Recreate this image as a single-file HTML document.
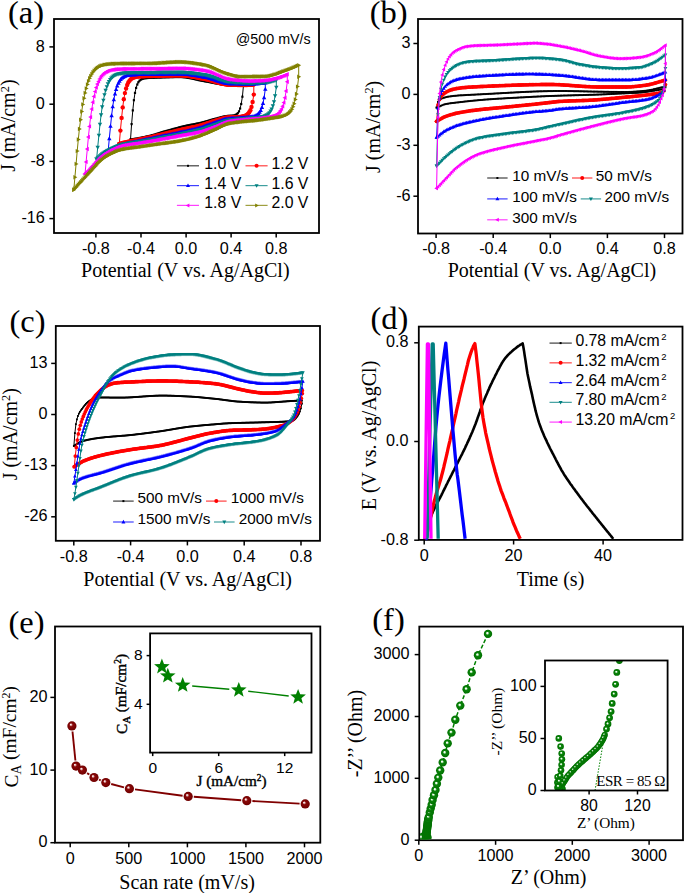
<!DOCTYPE html>
<html><head><meta charset="utf-8"><style>
html,body{margin:0;padding:0;background:#fff;}
svg{display:block;}
</style></head><body>
<svg width="685" height="893" viewBox="0 0 685 893">
<defs><marker id="mak" markerUnits="userSpaceOnUse" markerWidth="20" markerHeight="20" refX="0" refY="0" viewBox="-10 -10 20 20" overflow="visible"><g fill="#000000"><rect x="-1.1" y="-1.1" width="2.2" height="2.2"/></g></marker><marker id="mar" markerUnits="userSpaceOnUse" markerWidth="20" markerHeight="20" refX="0" refY="0" viewBox="-10 -10 20 20" overflow="visible"><g fill="#ff0000"><circle r="2.2"/></g></marker><marker id="mab" markerUnits="userSpaceOnUse" markerWidth="20" markerHeight="20" refX="0" refY="0" viewBox="-10 -10 20 20" overflow="visible"><g fill="#0000ff"><path d="M0,-2.4200000000000004 L2.2,1.54 L-2.2,1.54Z"/></g></marker><marker id="mat" markerUnits="userSpaceOnUse" markerWidth="20" markerHeight="20" refX="0" refY="0" viewBox="-10 -10 20 20" overflow="visible"><g fill="#008080"><path d="M0,2.4200000000000004 L2.2,-1.54 L-2.2,-1.54Z"/></g></marker><marker id="mam" markerUnits="userSpaceOnUse" markerWidth="20" markerHeight="20" refX="0" refY="0" viewBox="-10 -10 20 20" overflow="visible"><g fill="#ff00ff"><path d="M-2.4200000000000004,0 L1.54,-2.2 L1.54,2.2Z"/></g></marker><marker id="mao" markerUnits="userSpaceOnUse" markerWidth="20" markerHeight="20" refX="0" refY="0" viewBox="-10 -10 20 20" overflow="visible"><g fill="#808000"><path d="M2.4200000000000004,0 L-1.54,-2.2 L-1.54,2.2Z"/></g></marker><marker id="mbk" markerUnits="userSpaceOnUse" markerWidth="20" markerHeight="20" refX="0" refY="0" viewBox="-10 -10 20 20" overflow="visible"><g fill="#000000"><rect x="-0.95" y="-0.95" width="1.9" height="1.9"/></g></marker><marker id="mbr" markerUnits="userSpaceOnUse" markerWidth="20" markerHeight="20" refX="0" refY="0" viewBox="-10 -10 20 20" overflow="visible"><g fill="#ff0000"><circle r="1.9"/></g></marker><marker id="mbb" markerUnits="userSpaceOnUse" markerWidth="20" markerHeight="20" refX="0" refY="0" viewBox="-10 -10 20 20" overflow="visible"><g fill="#0000ff"><path d="M0,-2.09 L1.9,1.3299999999999998 L-1.9,1.3299999999999998Z"/></g></marker><marker id="mbt" markerUnits="userSpaceOnUse" markerWidth="20" markerHeight="20" refX="0" refY="0" viewBox="-10 -10 20 20" overflow="visible"><g fill="#008080"><path d="M0,2.09 L1.9,-1.3299999999999998 L-1.9,-1.3299999999999998Z"/></g></marker><marker id="mbm" markerUnits="userSpaceOnUse" markerWidth="20" markerHeight="20" refX="0" refY="0" viewBox="-10 -10 20 20" overflow="visible"><g fill="#ff00ff"><path d="M-2.09,0 L1.3299999999999998,-1.9 L1.3299999999999998,1.9Z"/></g></marker><marker id="mbo" markerUnits="userSpaceOnUse" markerWidth="20" markerHeight="20" refX="0" refY="0" viewBox="-10 -10 20 20" overflow="visible"><g fill="#808000"><path d="M2.09,0 L-1.3299999999999998,-1.9 L-1.3299999999999998,1.9Z"/></g></marker><marker id="mck" markerUnits="userSpaceOnUse" markerWidth="20" markerHeight="20" refX="0" refY="0" viewBox="-10 -10 20 20" overflow="visible"><g fill="#000000"><rect x="-0.925" y="-0.925" width="1.85" height="1.85"/></g></marker><marker id="mcr" markerUnits="userSpaceOnUse" markerWidth="20" markerHeight="20" refX="0" refY="0" viewBox="-10 -10 20 20" overflow="visible"><g fill="#ff0000"><circle r="1.85"/></g></marker><marker id="mcb" markerUnits="userSpaceOnUse" markerWidth="20" markerHeight="20" refX="0" refY="0" viewBox="-10 -10 20 20" overflow="visible"><g fill="#0000ff"><path d="M0,-2.035 L1.85,1.295 L-1.85,1.295Z"/></g></marker><marker id="mct" markerUnits="userSpaceOnUse" markerWidth="20" markerHeight="20" refX="0" refY="0" viewBox="-10 -10 20 20" overflow="visible"><g fill="#008080"><path d="M0,2.035 L1.85,-1.295 L-1.85,-1.295Z"/></g></marker><marker id="mcm" markerUnits="userSpaceOnUse" markerWidth="20" markerHeight="20" refX="0" refY="0" viewBox="-10 -10 20 20" overflow="visible"><g fill="#ff00ff"><path d="M-2.035,0 L1.295,-1.85 L1.295,1.85Z"/></g></marker><marker id="mco" markerUnits="userSpaceOnUse" markerWidth="20" markerHeight="20" refX="0" refY="0" viewBox="-10 -10 20 20" overflow="visible"><g fill="#808000"><path d="M2.035,0 L-1.295,-1.85 L-1.295,1.85Z"/></g></marker><marker id="mdk" markerUnits="userSpaceOnUse" markerWidth="20" markerHeight="20" refX="0" refY="0" viewBox="-10 -10 20 20" overflow="visible"><g fill="#000000"><rect x="-0.9" y="-0.9" width="1.8" height="1.8"/></g></marker><marker id="mdr" markerUnits="userSpaceOnUse" markerWidth="20" markerHeight="20" refX="0" refY="0" viewBox="-10 -10 20 20" overflow="visible"><g fill="#ff0000"><circle r="1.8"/></g></marker><marker id="mdb" markerUnits="userSpaceOnUse" markerWidth="20" markerHeight="20" refX="0" refY="0" viewBox="-10 -10 20 20" overflow="visible"><g fill="#0000ff"><path d="M0,-1.9800000000000002 L1.8,1.26 L-1.8,1.26Z"/></g></marker><marker id="mdt" markerUnits="userSpaceOnUse" markerWidth="20" markerHeight="20" refX="0" refY="0" viewBox="-10 -10 20 20" overflow="visible"><g fill="#008080"><path d="M0,1.9800000000000002 L1.8,-1.26 L-1.8,-1.26Z"/></g></marker><marker id="mdm" markerUnits="userSpaceOnUse" markerWidth="20" markerHeight="20" refX="0" refY="0" viewBox="-10 -10 20 20" overflow="visible"><g fill="#ff00ff"><path d="M-1.9800000000000002,0 L1.26,-1.8 L1.26,1.8Z"/></g></marker><marker id="mdo" markerUnits="userSpaceOnUse" markerWidth="20" markerHeight="20" refX="0" refY="0" viewBox="-10 -10 20 20" overflow="visible"><g fill="#808000"><path d="M1.9800000000000002,0 L-1.26,-1.8 L-1.26,1.8Z"/></g></marker><marker id="lgk" markerUnits="userSpaceOnUse" markerWidth="20" markerHeight="20" refX="0" refY="0" viewBox="-10 -10 20 20" overflow="visible"><g fill="#000000"><rect x="-1.1" y="-1.1" width="2.2" height="2.2"/></g></marker><marker id="lgr" markerUnits="userSpaceOnUse" markerWidth="20" markerHeight="20" refX="0" refY="0" viewBox="-10 -10 20 20" overflow="visible"><g fill="#ff0000"><circle r="2.2"/></g></marker><marker id="lgb" markerUnits="userSpaceOnUse" markerWidth="20" markerHeight="20" refX="0" refY="0" viewBox="-10 -10 20 20" overflow="visible"><g fill="#0000ff"><path d="M0,-2.4200000000000004 L2.2,1.54 L-2.2,1.54Z"/></g></marker><marker id="lgt" markerUnits="userSpaceOnUse" markerWidth="20" markerHeight="20" refX="0" refY="0" viewBox="-10 -10 20 20" overflow="visible"><g fill="#008080"><path d="M0,2.4200000000000004 L2.2,-1.54 L-2.2,-1.54Z"/></g></marker><marker id="lgm" markerUnits="userSpaceOnUse" markerWidth="20" markerHeight="20" refX="0" refY="0" viewBox="-10 -10 20 20" overflow="visible"><g fill="#ff00ff"><path d="M-2.4200000000000004,0 L1.54,-2.2 L1.54,2.2Z"/></g></marker><marker id="lgo" markerUnits="userSpaceOnUse" markerWidth="20" markerHeight="20" refX="0" refY="0" viewBox="-10 -10 20 20" overflow="visible"><g fill="#808000"><path d="M2.4200000000000004,0 L-1.54,-2.2 L-1.54,2.2Z"/></g></marker><g id="lgks" fill="#000000"><rect x="-1.0" y="-1.0" width="2.0" height="2.0"/></g><g id="lgrs" fill="#ff0000"><circle r="2.0"/></g><g id="lgbs" fill="#0000ff"><path d="M0,-2.2 L2.0,1.4 L-2.0,1.4Z"/></g><g id="lgts" fill="#008080"><path d="M0,2.2 L2.0,-1.4 L-2.0,-1.4Z"/></g><g id="lgms" fill="#ff00ff"><path d="M-2.2,0 L1.4,-2.0 L1.4,2.0Z"/></g><g id="lgos" fill="#808000"><path d="M2.2,0 L-1.4,-2.0 L-1.4,2.0Z"/></g><radialGradient id="gr" cx="0.5" cy="0.5" r="0.5" fx="0.36" fy="0.33"><stop offset="0" stop-color="#fff"/><stop offset="0.12" stop-color="#f4dada"/><stop offset="0.38" stop-color="#8a0808"/><stop offset="1" stop-color="#700000"/></radialGradient><radialGradient id="gg" cx="0.5" cy="0.5" r="0.5" fx="0.4" fy="0.38"><stop offset="0" stop-color="#fff"/><stop offset="0.15" stop-color="#f0fff0"/><stop offset="0.42" stop-color="#0a840a"/><stop offset="1" stop-color="#007000"/></radialGradient></defs>
<rect width="685" height="893" fill="#fff"/>
<text x="8" y="23.4" font-family="Liberation Serif, serif" font-size="32.5">(a)</text>
<rect x="54" y="19" width="265" height="214" fill="none" stroke="#000" stroke-width="1.8"/>
<line x1="95.9" y1="233" x2="95.9" y2="237.6" stroke="#000" stroke-width="1.5"/>
<text x="95.9" y="253.7" font-family="Liberation Sans, sans-serif" font-size="16.2" text-anchor="middle">-0.8</text>
<line x1="141.0" y1="233" x2="141.0" y2="237.6" stroke="#000" stroke-width="1.5"/>
<text x="141.0" y="253.7" font-family="Liberation Sans, sans-serif" font-size="16.2" text-anchor="middle">-0.4</text>
<line x1="186.1" y1="233" x2="186.1" y2="237.6" stroke="#000" stroke-width="1.5"/>
<text x="186.1" y="253.7" font-family="Liberation Sans, sans-serif" font-size="16.2" text-anchor="middle">0.0</text>
<line x1="231.1" y1="233" x2="231.1" y2="237.6" stroke="#000" stroke-width="1.5"/>
<text x="231.1" y="253.7" font-family="Liberation Sans, sans-serif" font-size="16.2" text-anchor="middle">0.4</text>
<line x1="276.2" y1="233" x2="276.2" y2="237.6" stroke="#000" stroke-width="1.5"/>
<text x="276.2" y="253.7" font-family="Liberation Sans, sans-serif" font-size="16.2" text-anchor="middle">0.8</text>
<line x1="49.4" y1="46.9" x2="54" y2="46.9" stroke="#000" stroke-width="1.5"/>
<text x="44.8" y="51.5" font-family="Liberation Sans, sans-serif" font-size="16.2" text-anchor="end">8</text>
<line x1="49.4" y1="104.2" x2="54" y2="104.2" stroke="#000" stroke-width="1.5"/>
<text x="44.8" y="108.8" font-family="Liberation Sans, sans-serif" font-size="16.2" text-anchor="end">0</text>
<line x1="49.4" y1="161.4" x2="54" y2="161.4" stroke="#000" stroke-width="1.5"/>
<text x="44.8" y="166.0" font-family="Liberation Sans, sans-serif" font-size="16.2" text-anchor="end">-8</text>
<line x1="49.4" y1="218.6" x2="54" y2="218.6" stroke="#000" stroke-width="1.5"/>
<text x="44.8" y="223.2" font-family="Liberation Sans, sans-serif" font-size="16.2" text-anchor="end">-16</text>
<text transform="translate(15.4,125.6) rotate(-90)" font-family="Liberation Serif, serif" font-size="20" text-anchor="middle" >J (mA/cm<tspan font-size="0.62em" dy="-0.55em">2</tspan><tspan dy="0.34em">)</tspan></text>
<text x="185.3" y="277.3" font-family="Liberation Serif, serif" font-size="20" text-anchor="middle" >Potential (V vs. Ag/AgCl)</text>
<text x="235.8" y="43.7" font-family="Liberation Sans, sans-serif" font-size="14.3">@500 mV/s</text>
<polyline points="130.5,139.6 131.6,124.1 132.8,110.4 133.9,100.2 135,92.9 136.1,87.9 137.3,84.5 138.4,82.2 139.5,80.7 140.7,79.7 141.8,79.1 142.9,78.7 144.1,78.4 145.2,78.2 146.3,78.1 147.4,78 148.6,77.9 149.7,77.8 150.8,77.8 152,77.7 153.1,77.7 154.2,77.7 155.4,77.6 156.5,77.6 157.6,77.5 158.7,77.5 159.9,77.5 161,77.4 162.1,77.4 163.3,77.3 164.4,77.3 165.5,77.3 166.7,77.2 167.8,77.2 168.9,77.2 170,77.1 171.2,77.1 172.3,77.1 173.4,77.1 174.6,77 175.7,77 176.8,77 178,77 179.1,77 180.2,77 181.3,77 182.5,77.1 183.6,77.2 184.7,77.3 185.9,77.4 187,77.6 188.1,77.8 189.3,78 190.4,78.2 191.5,78.4 192.6,78.7 193.8,78.9 194.9,79.2 196,79.4 197.2,79.7 198.3,80 199.4,80.2 200.6,80.5 201.7,80.7 202.8,80.9 203.9,81.1 205.1,81.3 206.2,81.5 207.3,81.7 208.5,81.9 209.6,82.1 210.7,82.4 211.9,82.6 213,82.8 214.1,83 215.2,83.3 216.4,83.5 217.5,83.7 218.6,83.9 219.8,84.1 220.9,84.3 222,84.5 223.2,84.6 224.3,84.8 225.4,84.9 226.5,85 227.7,85 228.8,85.1 229.9,85.1 231.1,85.1 232.2,85.1 233.3,85.1 234.5,85.1 235.6,85.1 236.7,85.1 237.8,85.1 239,85.1 240.1,85.1 241.2,85.1 242.4,85.1 243.5,85.1 242.4,96.7 241.2,104 240.1,108.5 239,111.4 237.8,113.2 236.7,114.2 235.6,114.9 234.5,115.3 233.3,115.6 232.2,115.7 231.1,115.8 229.9,115.8 228.8,115.9 227.7,115.9 226.5,116.1 225.4,116.3 224.3,116.5 223.2,116.7 222,117 220.9,117.3 219.8,117.6 218.6,117.9 217.5,118.3 216.4,118.6 215.2,118.8 214.1,119.1 213,119.4 211.9,119.7 210.7,120 209.6,120.4 208.5,120.7 207.3,121.1 206.2,121.4 205.1,121.7 203.9,122 202.8,122.3 201.7,122.6 200.6,122.9 199.4,123.2 198.3,123.4 197.2,123.6 196,123.8 194.9,124.1 193.8,124.3 192.6,124.5 191.5,124.7 190.4,124.9 189.3,125.1 188.1,125.4 187,125.6 185.9,125.8 184.7,126.1 183.6,126.3 182.5,126.6 181.3,126.9 180.2,127.2 179.1,127.5 178,127.8 176.8,128.1 175.7,128.4 174.6,128.7 173.4,129 172.3,129.3 171.2,129.7 170,130 168.9,130.3 167.8,130.6 166.7,130.9 165.5,131.2 164.4,131.5 163.3,131.8 162.1,132.2 161,132.5 159.9,132.9 158.7,133.3 157.6,133.6 156.5,134 155.4,134.4 154.2,134.7 153.1,135 152,135.3 150.8,135.6 149.7,135.9 148.6,136.1 147.4,136.4 146.3,136.6 145.2,136.9 144.1,137.1 142.9,137.3 141.8,137.6 140.7,137.8 139.5,138 138.4,138.3 137.3,138.5 136.1,138.7 135,138.8 133.9,139 132.8,139.2 131.6,139.4 130.5,139.6" fill="none" stroke="#000000" stroke-width="1.0" stroke-linejoin="round" marker-start="url(#mak)" marker-mid="url(#mak)" marker-end="url(#mak)" />
<polyline points="119.3,144 120.4,130.6 121.6,117.9 122.7,107.4 123.8,99.3 124.9,93.1 126.1,88.5 127.2,85 128.3,82.5 129.5,80.7 130.6,79.4 131.7,78.5 132.9,77.9 134,77.4 135.1,77 136.2,76.8 137.4,76.6 138.5,76.5 139.6,76.4 140.8,76.3 141.9,76.2 143,76.2 144.2,76.2 145.3,76.1 146.4,76.1 147.5,76.1 148.7,76 149.8,76 150.9,76 152.1,76 153.2,75.9 154.3,75.9 155.5,75.9 156.6,75.8 157.7,75.8 158.8,75.8 160,75.8 161.1,75.7 162.2,75.7 163.4,75.7 164.5,75.6 165.6,75.6 166.8,75.6 167.9,75.6 169,75.5 170.1,75.5 171.3,75.5 172.4,75.5 173.5,75.4 174.7,75.4 175.8,75.4 176.9,75.4 178.1,75.4 179.2,75.4 180.3,75.4 181.4,75.4 182.6,75.5 183.7,75.5 184.8,75.6 186,75.7 187.1,75.8 188.2,76 189.4,76.1 190.5,76.3 191.6,76.5 192.7,76.7 193.9,76.9 195,77.1 196.1,77.3 197.3,77.5 198.4,77.7 199.5,78 200.7,78.2 201.8,78.4 202.9,78.6 204,78.8 205.2,79 206.3,79.3 207.4,79.5 208.6,79.8 209.7,80.1 210.8,80.4 212,80.7 213.1,81 214.2,81.4 215.3,81.7 216.5,82.1 217.6,82.4 218.7,82.7 219.9,83.1 221,83.4 222.1,83.7 223.3,83.9 224.4,84.1 225.5,84.4 226.6,84.5 227.8,84.7 228.9,84.8 230,84.8 231.2,84.8 232.3,84.9 233.4,84.9 234.6,84.9 235.7,84.9 236.8,84.9 237.9,85 239.1,85 240.2,85 241.3,85 242.5,85 243.6,85 244.7,85 245.9,85 247,85 248.1,84.9 249.2,84.9 250.4,84.8 251.5,84.7 252.6,84.7 253.8,84.6 253.8,94.6 252.6,102 251.5,106.9 250.4,110.2 249.2,112.3 248.1,113.8 247,114.8 245.9,115.4 244.7,115.9 243.6,116.2 242.5,116.5 241.3,116.7 240.2,116.9 239.1,117 237.9,117.1 236.8,117.2 235.7,117.2 234.6,117.2 233.4,117.2 232.3,117.3 231.2,117.3 230,117.3 228.9,117.4 227.8,117.5 226.6,117.6 225.5,117.8 224.4,118.1 223.3,118.4 222.1,118.7 221,119 219.9,119.4 218.7,119.8 217.6,120.1 216.5,120.5 215.3,120.8 214.2,121.1 213.1,121.4 212,121.8 210.8,122.2 209.7,122.6 208.6,122.9 207.4,123.3 206.3,123.7 205.2,124.1 204,124.5 202.9,124.8 201.8,125.2 200.7,125.5 199.5,125.8 198.4,126.1 197.3,126.3 196.1,126.6 195,126.9 193.9,127.1 192.7,127.3 191.6,127.6 190.5,127.8 189.4,128.1 188.2,128.3 187.1,128.6 186,128.8 184.8,129 183.7,129.3 182.6,129.5 181.4,129.8 180.3,130.1 179.2,130.3 178.1,130.6 176.9,130.8 175.8,131.1 174.7,131.4 173.5,131.6 172.4,131.9 171.3,132.2 170.1,132.5 169,132.7 167.9,133 166.8,133.3 165.6,133.6 164.5,133.8 163.4,134.1 162.2,134.4 161.1,134.7 160,135 158.8,135.2 157.7,135.5 156.6,135.8 155.5,136.1 154.3,136.3 153.2,136.6 152.1,136.9 150.9,137.1 149.8,137.4 148.7,137.6 147.5,137.8 146.4,138.1 145.3,138.3 144.2,138.6 143,138.8 141.9,139 140.8,139.3 139.6,139.5 138.5,139.8 137.4,140 136.2,140.2 135.1,140.4 134,140.6 132.9,140.8 131.7,141 130.6,141.3 129.5,141.5 128.3,141.7 127.2,141.9 126.1,142.2 124.9,142.4 123.8,142.7 122.7,143 121.6,143.3 120.4,143.6 119.3,144" fill="none" stroke="#ff0000" stroke-width="1.0" stroke-linejoin="round" marker-start="url(#mar)" marker-mid="url(#mar)" marker-end="url(#mar)" />
<polyline points="108.2,151 109.3,138.6 110.5,126.3 111.6,115.6 112.7,106.8 113.8,99.6 115,93.9 116.1,89.4 117.2,85.9 118.4,83.2 119.5,81.1 120.6,79.5 121.8,78.3 122.9,77.4 124,76.7 125.1,76.2 126.3,75.8 127.4,75.5 128.5,75.2 129.7,75.1 130.8,74.9 131.9,74.8 133.1,74.7 134.2,74.7 135.3,74.6 136.4,74.6 137.6,74.5 138.7,74.5 139.8,74.5 141,74.5 142.1,74.4 143.2,74.4 144.4,74.4 145.5,74.4 146.6,74.4 147.7,74.3 148.9,74.3 150,74.3 151.1,74.3 152.3,74.3 153.4,74.2 154.5,74.2 155.7,74.2 156.8,74.2 157.9,74.2 159,74.2 160.2,74.1 161.3,74.1 162.4,74.1 163.6,74.1 164.7,74.1 165.8,74 167,74 168.1,74 169.2,74 170.3,74 171.5,74 172.6,73.9 173.7,73.9 174.9,73.9 176,73.9 177.1,73.9 178.3,73.9 179.4,73.9 180.5,73.9 181.6,73.9 182.8,74 183.9,74 185,74.1 186.2,74.2 187.3,74.3 188.4,74.4 189.6,74.6 190.7,74.7 191.8,74.9 192.9,75.1 194.1,75.3 195.2,75.4 196.3,75.6 197.5,75.8 198.6,76 199.7,76.3 200.9,76.5 202,76.7 203.1,76.9 204.2,77.1 205.4,77.3 206.5,77.5 207.6,77.8 208.8,78 209.9,78.4 211,78.7 212.2,79.1 213.3,79.4 214.4,79.8 215.5,80.2 216.7,80.6 217.8,80.9 218.9,81.3 220.1,81.7 221.2,82 222.3,82.3 223.5,82.6 224.6,82.9 225.7,83.1 226.8,83.3 228,83.4 229.1,83.6 230.2,83.6 231.4,83.6 232.5,83.7 233.6,83.7 234.8,83.8 235.9,83.8 237,83.8 238.1,83.8 239.3,83.9 240.4,83.9 241.5,83.9 242.7,83.9 243.8,84 244.9,84 246.1,84 247.2,84 248.3,84 249.4,84 250.6,84 251.7,84 252.8,83.9 254,83.9 255.1,83.8 256.2,83.8 257.4,83.7 258.5,83.6 259.6,83.5 260.7,83.4 261.9,83.3 263,83.1 264.1,83 265.3,82.9 265.3,89.1 264.1,97.6 263,103.5 261.9,107.5 260.7,110.4 259.6,112.3 258.5,113.7 257.4,114.7 256.2,115.4 255.1,115.9 254,116.3 252.8,116.6 251.7,116.8 250.6,117 249.4,117.1 248.3,117.2 247.2,117.4 246.1,117.5 244.9,117.6 243.8,117.7 242.7,117.8 241.5,117.9 240.4,118 239.3,118.1 238.1,118.2 237,118.2 235.9,118.3 234.8,118.3 233.6,118.4 232.5,118.4 231.4,118.5 230.2,118.6 229.1,118.6 228,118.8 226.8,119 225.7,119.2 224.6,119.5 223.5,119.8 222.3,120.2 221.2,120.6 220.1,121 218.9,121.4 217.8,121.8 216.7,122.2 215.5,122.6 214.4,122.9 213.3,123.3 212.2,123.7 211,124.1 209.9,124.5 208.8,124.9 207.6,125.3 206.5,125.7 205.4,126.2 204.2,126.5 203.1,126.9 202,127.3 200.9,127.7 199.7,128 198.6,128.3 197.5,128.6 196.3,128.9 195.2,129.2 194.1,129.5 192.9,129.7 191.8,130 190.7,130.3 189.6,130.5 188.4,130.8 187.3,131 186.2,131.3 185,131.5 183.9,131.7 182.8,132 181.6,132.2 180.5,132.5 179.4,132.7 178.3,132.9 177.1,133.2 176,133.4 174.9,133.6 173.7,133.9 172.6,134.1 171.5,134.3 170.3,134.6 169.2,134.8 168.1,135 167,135.3 165.8,135.5 164.7,135.7 163.6,136 162.4,136.2 161.3,136.4 160.2,136.7 159,136.9 157.9,137.1 156.8,137.4 155.7,137.6 154.5,137.9 153.4,138.1 152.3,138.4 151.1,138.6 150,138.8 148.9,139 147.7,139.3 146.6,139.5 145.5,139.7 144.4,140 143.2,140.2 142.1,140.4 141,140.7 139.8,140.9 138.7,141.1 137.6,141.4 136.4,141.6 135.3,141.8 134.2,142 133.1,142.2 131.9,142.4 130.8,142.6 129.7,142.9 128.5,143.1 127.4,143.3 126.3,143.6 125.1,143.9 124,144.1 122.9,144.4 121.8,144.7 120.6,145.1 119.5,145.5 118.4,145.9 117.2,146.4 116.1,146.9 115,147.4 113.8,147.9 112.7,148.5 111.6,149.1 110.5,149.7 109.3,150.3 108.2,151" fill="none" stroke="#0000ff" stroke-width="1.0" stroke-linejoin="round" marker-start="url(#mab)" marker-mid="url(#mab)" marker-end="url(#mab)" />
<polyline points="96.6,159.1 97.7,147.3 98.9,135.2 100,124.2 101.1,114.8 102.2,106.8 103.4,100.2 104.5,94.7 105.6,90.3 106.8,86.7 107.9,83.8 109,81.5 110.2,79.6 111.3,78.1 112.4,77 113.5,76 114.7,75.3 115.8,74.8 116.9,74.3 118.1,74 119.2,73.7 120.3,73.5 121.5,73.3 122.6,73.2 123.7,73.1 124.8,73 126,72.9 127.1,72.9 128.2,72.8 129.4,72.8 130.5,72.7 131.6,72.7 132.8,72.7 133.9,72.7 135,72.7 136.1,72.6 137.3,72.6 138.4,72.6 139.5,72.6 140.7,72.6 141.8,72.6 142.9,72.6 144.1,72.6 145.2,72.5 146.3,72.5 147.4,72.5 148.6,72.5 149.7,72.5 150.8,72.5 152,72.5 153.1,72.5 154.2,72.5 155.4,72.5 156.5,72.4 157.6,72.4 158.7,72.4 159.9,72.4 161,72.4 162.1,72.4 163.3,72.4 164.4,72.4 165.5,72.4 166.7,72.4 167.8,72.4 168.9,72.3 170,72.3 171.2,72.3 172.3,72.3 173.4,72.3 174.6,72.3 175.7,72.3 176.8,72.3 178,72.3 179.1,72.3 180.2,72.3 181.3,72.3 182.5,72.3 183.6,72.4 184.7,72.4 185.9,72.5 187,72.6 188.1,72.7 189.3,72.8 190.4,72.9 191.5,73 192.6,73.1 193.8,73.3 194.9,73.4 196,73.6 197.2,73.7 198.3,73.9 199.4,74.1 200.6,74.2 201.7,74.4 202.8,74.6 203.9,74.7 205.1,74.9 206.2,75.1 207.3,75.3 208.5,75.6 209.6,75.9 210.7,76.3 211.9,76.6 213,77 214.1,77.4 215.2,77.8 216.4,78.2 217.5,78.6 218.6,79 219.8,79.4 220.9,79.8 222,80.2 223.2,80.5 224.3,80.8 225.4,81.1 226.5,81.4 227.7,81.6 228.8,81.8 229.9,81.9 231.1,82 232.2,82.1 233.3,82.2 234.5,82.3 235.6,82.4 236.7,82.5 237.8,82.5 239,82.6 240.1,82.7 241.2,82.7 242.4,82.8 243.5,82.9 244.6,82.9 245.8,82.9 246.9,83 248,83 249.1,83 250.3,83 251.4,83 252.5,83 253.7,83 254.8,82.9 255.9,82.9 257.1,82.9 258.2,82.8 259.3,82.8 260.4,82.7 261.6,82.7 262.7,82.6 263.8,82.6 265,82.5 266.1,82.4 267.2,82.3 268.4,82.1 269.5,81.9 270.6,81.6 271.7,81.4 272.9,81.1 274,80.8 275.1,80.4 276.3,80.1 276.3,87.2 275.1,95.7 274,101.7 272.9,105.9 271.7,109 270.6,111.1 269.5,112.7 268.4,113.9 267.2,114.7 266.1,115.4 265,115.9 263.8,116.3 262.7,116.6 261.6,116.9 260.4,117.1 259.3,117.3 258.2,117.4 257.1,117.6 255.9,117.7 254.8,117.8 253.7,117.9 252.5,118 251.4,118.1 250.3,118.2 249.1,118.3 248,118.3 246.9,118.4 245.8,118.5 244.6,118.6 243.5,118.7 242.4,118.8 241.2,118.9 240.1,119 239,119.1 237.8,119.2 236.7,119.3 235.6,119.4 234.5,119.5 233.3,119.6 232.2,119.7 231.1,119.8 229.9,119.9 228.8,120 227.7,120.2 226.5,120.5 225.4,120.8 224.3,121.2 223.2,121.6 222,122 220.9,122.5 219.8,122.9 218.6,123.4 217.5,123.8 216.4,124.2 215.2,124.6 214.1,125 213,125.4 211.9,125.8 210.7,126.2 209.6,126.6 208.5,127 207.3,127.4 206.2,127.8 205.1,128.2 203.9,128.5 202.8,128.9 201.7,129.2 200.6,129.6 199.4,129.9 198.3,130.1 197.2,130.4 196,130.7 194.9,130.9 193.8,131.2 192.6,131.4 191.5,131.6 190.4,131.9 189.3,132.1 188.1,132.3 187,132.6 185.9,132.8 184.7,133.1 183.6,133.3 182.5,133.5 181.3,133.8 180.2,134 179.1,134.3 178,134.5 176.8,134.7 175.7,134.9 174.6,135.2 173.4,135.4 172.3,135.6 171.2,135.8 170,136 168.9,136.2 167.8,136.5 166.7,136.7 165.5,136.9 164.4,137.1 163.3,137.3 162.1,137.5 161,137.7 159.9,138 158.7,138.2 157.6,138.4 156.5,138.6 155.4,138.8 154.2,139.1 153.1,139.3 152,139.5 150.8,139.7 149.7,139.9 148.6,140.1 147.4,140.3 146.3,140.4 145.2,140.6 144.1,140.8 142.9,141 141.8,141.2 140.7,141.4 139.5,141.6 138.4,141.8 137.3,142 136.1,142.1 135,142.3 133.9,142.5 132.8,142.6 131.6,142.8 130.5,143 129.4,143.1 128.2,143.3 127.1,143.5 126,143.7 124.8,143.9 123.7,144.1 122.6,144.4 121.5,144.7 120.3,145 119.2,145.3 118.1,145.7 116.9,146.1 115.8,146.6 114.7,147 113.5,147.5 112.4,148 111.3,148.5 110.2,149.1 109,149.7 107.9,150.3 106.8,150.9 105.6,151.5 104.5,152.2 103.4,153 102.2,153.8 101.1,154.7 100,155.7 98.9,156.8 97.7,157.9 96.6,159.1" fill="none" stroke="#008080" stroke-width="1.0" stroke-linejoin="round" marker-start="url(#mat)" marker-mid="url(#mat)" marker-end="url(#mat)" />
<polyline points="85,174 86.1,161.9 87.3,149 88.4,137 89.5,126.4 90.6,117.1 91.8,109.1 92.9,102.2 94,96.4 95.2,91.6 96.3,87.5 97.4,84.1 98.6,81.4 99.7,79 100.8,77.1 101.9,75.6 103.1,74.3 104.2,73.3 105.3,72.4 106.5,71.8 107.6,71.2 108.7,70.8 109.9,70.4 111,70.1 112.1,69.9 113.2,69.7 114.4,69.5 115.5,69.4 116.6,69.3 117.8,69.2 118.9,69.2 120,69.1 121.2,69.1 122.3,69 123.4,69 124.5,69 125.7,69 126.8,68.9 127.9,68.9 129.1,68.9 130.2,68.9 131.3,68.9 132.5,68.9 133.6,68.9 134.7,68.9 135.8,68.9 137,68.9 138.1,68.9 139.2,68.9 140.4,68.8 141.5,68.8 142.6,68.8 143.8,68.8 144.9,68.8 146,68.8 147.1,68.8 148.3,68.8 149.4,68.8 150.5,68.8 151.7,68.8 152.8,68.8 153.9,68.8 155.1,68.8 156.2,68.7 157.3,68.7 158.4,68.7 159.6,68.7 160.7,68.7 161.8,68.6 163,68.6 164.1,68.6 165.2,68.6 166.4,68.6 167.5,68.5 168.6,68.5 169.7,68.5 170.9,68.5 172,68.5 173.1,68.4 174.3,68.4 175.4,68.4 176.5,68.4 177.7,68.4 178.8,68.4 179.9,68.4 181,68.4 182.2,68.4 183.3,68.5 184.4,68.5 185.6,68.6 186.7,68.6 187.8,68.7 189,68.8 190.1,68.9 191.2,69 192.3,69.1 193.5,69.2 194.6,69.4 195.7,69.5 196.9,69.6 198,69.8 199.1,69.9 200.3,70.1 201.4,70.3 202.5,70.4 203.6,70.6 204.8,70.8 205.9,71 207,71.2 208.2,71.5 209.3,71.9 210.4,72.2 211.6,72.7 212.7,73.1 213.8,73.6 214.9,74.1 216.1,74.6 217.2,75.1 218.3,75.6 219.5,76.1 220.6,76.6 221.7,77.1 222.9,77.6 224,78 225.1,78.4 226.2,78.7 227.4,79 228.5,79.3 229.6,79.5 230.8,79.6 231.9,79.7 233,79.9 234.2,80 235.3,80.1 236.4,80.2 237.5,80.3 238.7,80.4 239.8,80.5 240.9,80.6 242.1,80.7 243.2,80.8 244.3,80.8 245.5,80.9 246.6,80.9 247.7,81 248.8,81 250,81 251.1,81 252.2,81 253.4,81 254.5,80.9 255.6,80.9 256.8,80.9 257.9,80.8 259,80.8 260.1,80.7 261.3,80.6 262.4,80.6 263.5,80.5 264.7,80.4 265.8,80.3 266.9,80.2 268.1,80 269.2,79.9 270.3,79.6 271.4,79.4 272.6,79.1 273.7,78.8 274.8,78.6 276,78.3 277.1,78 278.2,77.7 279.4,77.3 280.5,77 281.6,76.6 282.7,76.1 283.9,75.7 285,75.3 286.1,74.8 287.3,74.3 287.3,81.7 286.1,91 285,97.7 283.9,102.6 282.7,106.2 281.6,108.9 280.5,110.8 279.4,112.3 278.2,113.4 277.1,114.2 276,114.9 274.8,115.4 273.7,115.8 272.6,116.1 271.4,116.4 270.3,116.6 269.2,116.9 268.1,117.1 266.9,117.3 265.8,117.5 264.7,117.6 263.5,117.8 262.4,118 261.3,118.1 260.1,118.2 259,118.4 257.9,118.5 256.8,118.6 255.6,118.7 254.5,118.8 253.4,118.9 252.2,119 251.1,119.1 250,119.2 248.8,119.2 247.7,119.3 246.6,119.4 245.5,119.5 244.3,119.6 243.2,119.7 242.1,119.8 240.9,119.9 239.8,120 238.7,120.2 237.5,120.3 236.4,120.4 235.3,120.5 234.2,120.6 233,120.7 231.9,120.9 230.8,121 229.6,121.2 228.5,121.4 227.4,121.7 226.2,122 225.1,122.4 224,122.8 222.9,123.2 221.7,123.7 220.6,124.2 219.5,124.7 218.3,125.2 217.2,125.7 216.1,126.2 214.9,126.6 213.8,127 212.7,127.4 211.6,127.9 210.4,128.3 209.3,128.7 208.2,129.1 207,129.5 205.9,129.9 204.8,130.3 203.6,130.7 202.5,131.1 201.4,131.4 200.3,131.7 199.1,132 198,132.3 196.9,132.5 195.7,132.8 194.6,133 193.5,133.2 192.3,133.5 191.2,133.7 190.1,133.9 189,134.1 187.8,134.3 186.7,134.5 185.6,134.7 184.4,134.9 183.3,135.1 182.2,135.3 181,135.5 179.9,135.7 178.8,135.9 177.7,136.1 176.5,136.3 175.4,136.5 174.3,136.7 173.1,137 172,137.2 170.9,137.4 169.7,137.6 168.6,137.8 167.5,138 166.4,138.2 165.2,138.4 164.1,138.7 163,138.9 161.8,139.1 160.7,139.3 159.6,139.5 158.4,139.8 157.3,140 156.2,140.2 155.1,140.4 153.9,140.6 152.8,140.8 151.7,141 150.5,141.2 149.4,141.4 148.3,141.6 147.1,141.8 146,142 144.9,142.2 143.8,142.3 142.6,142.5 141.5,142.7 140.4,142.9 139.2,143.1 138.1,143.2 137,143.4 135.8,143.6 134.7,143.7 133.6,143.9 132.5,144 131.3,144.2 130.2,144.4 129.1,144.5 127.9,144.7 126.8,144.9 125.7,145.1 124.5,145.3 123.4,145.6 122.3,145.8 121.2,146.1 120,146.5 118.9,146.8 117.8,147.2 116.6,147.7 115.5,148.2 114.4,148.7 113.2,149.2 112.1,149.7 111,150.3 109.9,150.9 108.7,151.6 107.6,152.2 106.5,152.9 105.3,153.6 104.2,154.3 103.1,155.2 101.9,156.1 100.8,157.1 99.7,158.1 98.6,159.2 97.4,160.4 96.3,161.6 95.2,162.9 94,164.1 92.9,165.4 91.8,166.7 90.6,168 89.5,169.2 88.4,170.4 87.3,171.6 86.1,172.8 85,174" fill="none" stroke="#ff00ff" stroke-width="1.0" stroke-linejoin="round" marker-start="url(#mam)" marker-mid="url(#mam)" marker-end="url(#mam)" />
<polyline points="73.8,189.7 74.9,177.3 76.1,163.9 77.2,151.1 78.3,139.5 79.4,129 80.6,119.7 81.7,111.5 82.8,104.4 84,98.2 85.1,92.9 86.2,88.4 87.4,84.4 88.5,81.1 89.6,78.3 90.7,75.9 91.9,73.9 93,72.1 94.1,70.7 95.3,69.5 96.4,68.5 97.5,67.6 98.7,66.9 99.8,66.3 100.9,65.8 102,65.4 103.2,65.1 104.3,64.8 105.4,64.6 106.6,64.4 107.7,64.2 108.8,64.1 110,64 111.1,63.9 112.2,63.8 113.3,63.8 114.5,63.7 115.6,63.7 116.7,63.6 117.9,63.6 119,63.6 120.1,63.6 121.3,63.5 122.4,63.5 123.5,63.5 124.6,63.5 125.8,63.5 126.9,63.5 128,63.5 129.2,63.5 130.3,63.5 131.4,63.5 132.6,63.5 133.7,63.5 134.8,63.5 135.9,63.5 137.1,63.4 138.2,63.4 139.3,63.4 140.5,63.4 141.6,63.4 142.7,63.4 143.9,63.4 145,63.4 146.1,63.4 147.2,63.4 148.4,63.4 149.5,63.4 150.6,63.4 151.8,63.4 152.9,63.4 154,63.3 155.2,63.3 156.3,63.2 157.4,63.2 158.5,63.1 159.7,63 160.8,63 161.9,62.9 163.1,62.8 164.2,62.7 165.3,62.7 166.5,62.6 167.6,62.5 168.7,62.4 169.8,62.4 171,62.3 172.1,62.2 173.2,62.2 174.4,62.1 175.5,62.1 176.6,62 177.8,62 178.9,62 180,62 181.1,62 182.3,62 183.4,62.1 184.5,62.1 185.7,62.2 186.8,62.3 187.9,62.4 189.1,62.5 190.2,62.6 191.3,62.7 192.4,62.9 193.6,63 194.7,63.2 195.8,63.4 197,63.5 198.1,63.7 199.2,63.9 200.4,64.1 201.5,64.3 202.6,64.5 203.7,64.7 204.9,64.9 206,65.1 207.1,65.4 208.3,65.7 209.4,66.1 210.5,66.5 211.7,67 212.8,67.5 213.9,68 215,68.5 216.2,69 217.3,69.6 218.4,70.1 219.6,70.6 220.7,71.1 221.8,71.6 223,72.1 224.1,72.5 225.2,72.9 226.3,73.3 227.5,73.6 228.6,74 229.7,74.3 230.9,74.6 232,75 233.1,75.3 234.3,75.6 235.4,75.9 236.5,76.1 237.6,76.3 238.8,76.5 239.9,76.6 241,76.6 242.2,76.6 243.3,76.6 244.4,76.6 245.6,76.6 246.7,76.6 247.8,76.6 248.9,76.6 250.1,76.6 251.2,76.6 252.3,76.6 253.5,76.5 254.6,76.5 255.7,76.5 256.9,76.5 258,76.5 259.1,76.5 260.2,76.5 261.4,76.5 262.5,76.4 263.6,76.4 264.8,76.4 265.9,76.4 267,76.3 268.2,76.1 269.3,75.9 270.4,75.7 271.5,75.4 272.7,75.1 273.8,74.8 274.9,74.4 276.1,74.1 277.2,73.7 278.3,73.2 279.5,72.8 280.6,72.4 281.7,72 282.8,71.5 284,71.1 285.1,70.7 286.2,70.3 287.4,69.9 288.5,69.5 289.6,69.1 290.8,68.6 291.9,68.2 293,67.7 294.1,67.2 295.3,66.7 296.4,66.2 297.5,65.7 298.7,65.2 298.7,76.7 297.5,86.6 296.4,94 295.3,99.5 294.1,103.7 293,106.8 291.9,109.2 290.8,111 289.6,112.3 288.5,113.4 287.4,114.2 286.2,114.9 285.1,115.4 284,115.8 282.8,116.2 281.7,116.5 280.6,116.8 279.5,117 278.3,117.2 277.2,117.4 276.1,117.6 274.9,117.8 273.8,118 272.7,118.1 271.5,118.3 270.4,118.5 269.3,118.6 268.2,118.8 267,119 265.9,119.1 264.8,119.3 263.6,119.5 262.5,119.6 261.4,119.8 260.2,119.9 259.1,120.1 258,120.2 256.9,120.3 255.7,120.5 254.6,120.6 253.5,120.7 252.3,120.8 251.2,120.9 250.1,121 248.9,121.1 247.8,121.2 246.7,121.3 245.6,121.4 244.4,121.5 243.3,121.6 242.2,121.8 241,121.9 239.9,122 238.8,122.2 237.6,122.3 236.5,122.4 235.4,122.6 234.3,122.8 233.1,122.9 232,123.1 230.9,123.3 229.7,123.5 228.6,123.8 227.5,124.1 226.3,124.5 225.2,124.9 224.1,125.4 223,125.9 221.8,126.5 220.7,127.1 219.6,127.6 218.4,128.2 217.3,128.8 216.2,129.3 215,129.8 213.9,130.3 212.8,130.7 211.7,131.2 210.5,131.7 209.4,132.2 208.3,132.7 207.1,133.2 206,133.7 204.9,134.1 203.7,134.6 202.6,135 201.5,135.5 200.4,135.9 199.2,136.3 198.1,136.6 197,137 195.8,137.3 194.7,137.6 193.6,137.9 192.4,138.2 191.3,138.5 190.2,138.8 189.1,139.1 187.9,139.4 186.8,139.6 185.7,139.9 184.5,140.1 183.4,140.3 182.3,140.6 181.1,140.8 180,141 178.9,141.2 177.8,141.4 176.6,141.6 175.5,141.8 174.4,141.9 173.2,142.1 172.1,142.2 171,142.4 169.8,142.6 168.7,142.7 167.6,142.9 166.5,143 165.3,143.2 164.2,143.3 163.1,143.4 161.9,143.6 160.8,143.8 159.7,143.9 158.5,144.1 157.4,144.2 156.3,144.4 155.2,144.6 154,144.7 152.9,144.9 151.8,145.1 150.6,145.2 149.5,145.4 148.4,145.6 147.2,145.7 146.1,145.9 145,146.1 143.9,146.2 142.7,146.4 141.6,146.6 140.5,146.7 139.3,146.9 138.2,147.1 137.1,147.2 135.9,147.3 134.8,147.5 133.7,147.6 132.6,147.8 131.4,147.9 130.3,148.1 129.2,148.2 128,148.4 126.9,148.6 125.8,148.8 124.6,149 123.5,149.2 122.4,149.4 121.3,149.7 120.1,150 119,150.4 117.9,150.8 116.7,151.2 115.6,151.7 114.5,152.2 113.3,152.7 112.2,153.2 111.1,153.8 110,154.4 108.8,155 107.7,155.7 106.6,156.3 105.4,157 104.3,157.7 103.2,158.6 102,159.5 100.9,160.4 99.8,161.5 98.7,162.6 97.5,163.8 96.4,165 95.3,166.2 94.1,167.5 93,168.7 91.9,170 90.7,171.3 89.6,172.5 88.5,173.8 87.4,174.9 86.2,176.1 85.1,177.3 84,178.5 82.8,179.7 81.7,181 80.6,182.2 79.4,183.4 78.3,184.7 77.2,185.9 76.1,187.2 74.9,188.4 73.8,189.7" fill="none" stroke="#808000" stroke-width="1.0" stroke-linejoin="round" marker-start="url(#mao)" marker-mid="url(#mao)" marker-end="url(#mao)" />
<line x1="176.9" y1="165.8" x2="199.0" y2="165.8" stroke="#000000" stroke-width="1.2" opacity="0.75"/>
<use href="#lgks" x="188.0" y="165.8"/>
<text x="204.3" y="168.7" font-family="Liberation Sans, sans-serif" font-size="15.8">1.0 V</text>
<line x1="245.5" y1="165.8" x2="267.6" y2="165.8" stroke="#ff0000" stroke-width="1.2" opacity="0.75"/>
<use href="#lgrs" x="256.6" y="165.8"/>
<text x="271.5" y="168.7" font-family="Liberation Sans, sans-serif" font-size="15.8">1.2 V</text>
<line x1="176.9" y1="185.6" x2="199.0" y2="185.6" stroke="#0000ff" stroke-width="1.2" opacity="0.75"/>
<use href="#lgbs" x="188.0" y="185.6"/>
<text x="204.3" y="188.5" font-family="Liberation Sans, sans-serif" font-size="15.8">1.4 V</text>
<line x1="245.5" y1="185.6" x2="267.6" y2="185.6" stroke="#008080" stroke-width="1.2" opacity="0.75"/>
<use href="#lgts" x="256.6" y="185.6"/>
<text x="271.5" y="188.5" font-family="Liberation Sans, sans-serif" font-size="15.8">1.6 V</text>
<line x1="176.9" y1="205.4" x2="199.0" y2="205.4" stroke="#ff00ff" stroke-width="1.2" opacity="0.75"/>
<use href="#lgms" x="188.0" y="205.4"/>
<text x="204.3" y="208.3" font-family="Liberation Sans, sans-serif" font-size="15.8">1.8 V</text>
<line x1="245.5" y1="205.4" x2="267.6" y2="205.4" stroke="#808000" stroke-width="1.2" opacity="0.75"/>
<use href="#lgos" x="256.6" y="205.4"/>
<text x="271.5" y="208.3" font-family="Liberation Sans, sans-serif" font-size="15.8">2.0 V</text>
<text x="369.7" y="23.2" font-family="Liberation Serif, serif" font-size="32.5">(b)</text>
<rect x="418" y="19" width="264.5" height="214.5" fill="none" stroke="#000" stroke-width="1.8"/>
<line x1="436.1" y1="233.5" x2="436.1" y2="238.1" stroke="#000" stroke-width="1.5"/>
<text x="436.1" y="254.2" font-family="Liberation Sans, sans-serif" font-size="16.2" text-anchor="middle">-0.8</text>
<line x1="493.2" y1="233.5" x2="493.2" y2="238.1" stroke="#000" stroke-width="1.5"/>
<text x="493.2" y="254.2" font-family="Liberation Sans, sans-serif" font-size="16.2" text-anchor="middle">-0.4</text>
<line x1="550.3" y1="233.5" x2="550.3" y2="238.1" stroke="#000" stroke-width="1.5"/>
<text x="550.3" y="254.2" font-family="Liberation Sans, sans-serif" font-size="16.2" text-anchor="middle">0.0</text>
<line x1="607.4" y1="233.5" x2="607.4" y2="238.1" stroke="#000" stroke-width="1.5"/>
<text x="607.4" y="254.2" font-family="Liberation Sans, sans-serif" font-size="16.2" text-anchor="middle">0.4</text>
<line x1="664.5" y1="233.5" x2="664.5" y2="238.1" stroke="#000" stroke-width="1.5"/>
<text x="664.5" y="254.2" font-family="Liberation Sans, sans-serif" font-size="16.2" text-anchor="middle">0.8</text>
<line x1="413.4" y1="43.5" x2="418" y2="43.5" stroke="#000" stroke-width="1.5"/>
<text x="410.6" y="48.1" font-family="Liberation Sans, sans-serif" font-size="16.2" text-anchor="end">3</text>
<line x1="413.4" y1="94.4" x2="418" y2="94.4" stroke="#000" stroke-width="1.5"/>
<text x="410.6" y="99.0" font-family="Liberation Sans, sans-serif" font-size="16.2" text-anchor="end">0</text>
<line x1="413.4" y1="145.3" x2="418" y2="145.3" stroke="#000" stroke-width="1.5"/>
<text x="410.6" y="149.9" font-family="Liberation Sans, sans-serif" font-size="16.2" text-anchor="end">-3</text>
<line x1="413.4" y1="196.2" x2="418" y2="196.2" stroke="#000" stroke-width="1.5"/>
<text x="410.6" y="200.8" font-family="Liberation Sans, sans-serif" font-size="16.2" text-anchor="end">-6</text>
<text transform="translate(380.3,126.9) rotate(-90)" font-family="Liberation Serif, serif" font-size="20" text-anchor="middle" >J (mA/cm<tspan font-size="0.62em" dy="-0.55em">2</tspan><tspan dy="0.34em">)</tspan></text>
<text x="551.9" y="277.3" font-family="Liberation Serif, serif" font-size="20" text-anchor="middle" >Potential (V vs. Ag/AgCl)</text>
<polyline points="436.6,107.6 438,101.8 439.5,99.9 440.9,98.9 442.3,98.3 443.8,97.8 445.2,97.4 446.6,97 448,96.7 449.5,96.5 450.9,96.3 452.3,96.1 453.8,95.9 455.2,95.8 456.6,95.7 458.1,95.5 459.5,95.4 460.9,95.3 462.3,95.3 463.8,95.2 465.2,95.1 466.6,95 468.1,94.9 469.5,94.9 470.9,94.8 472.4,94.7 473.8,94.7 475.2,94.6 476.6,94.5 478.1,94.4 479.5,94.4 480.9,94.3 482.4,94.2 483.8,94.1 485.2,94.1 486.7,94 488.1,93.9 489.5,93.8 490.9,93.8 492.4,93.7 493.8,93.6 495.2,93.5 496.7,93.4 498.1,93.4 499.5,93.3 501,93.2 502.4,93.1 503.8,93 505.2,93 506.7,92.9 508.1,92.8 509.5,92.7 511,92.6 512.4,92.6 513.8,92.5 515.3,92.4 516.7,92.3 518.1,92.3 519.5,92.2 521,92.1 522.4,92 523.8,92 525.3,91.9 526.7,91.8 528.1,91.8 529.6,91.7 531,91.7 532.4,91.6 533.8,91.5 535.3,91.5 536.7,91.4 538.1,91.4 539.6,91.3 541,91.3 542.4,91.3 543.9,91.2 545.3,91.2 546.7,91.2 548.1,91.1 549.6,91.1 551,91.1 552.4,91.1 553.9,91 555.3,91 556.7,91 558.2,91 559.6,91 561,91 562.4,91 563.9,91 565.3,91 566.7,91 568.2,91.1 569.6,91.1 571,91.1 572.5,91.1 573.9,91.2 575.3,91.2 576.7,91.2 578.2,91.2 579.6,91.3 581,91.3 582.5,91.3 583.9,91.4 585.3,91.4 586.8,91.4 588.2,91.5 589.6,91.5 591,91.5 592.5,91.6 593.9,91.6 595.3,91.6 596.8,91.6 598.2,91.7 599.6,91.7 601.1,91.7 602.5,91.7 603.9,91.8 605.3,91.8 606.8,91.8 608.2,91.8 609.6,91.9 611.1,91.9 612.5,91.9 613.9,91.9 615.4,91.9 616.8,91.9 618.2,92 619.6,92 621.1,92 622.5,92 623.9,92 625.4,92 626.8,92 628.2,92 629.7,91.9 631.1,91.9 632.5,91.8 633.9,91.7 635.4,91.6 636.8,91.5 638.2,91.4 639.7,91.3 641.1,91.2 642.5,91 644,90.9 645.4,90.8 646.8,90.6 648.2,90.4 649.7,90.1 651.1,89.9 652.5,89.6 654,89.2 655.4,88.9 656.8,88.5 658.3,88.2 659.7,87.8 661.1,87.5 662.5,87.1 664,86.8 665.4,86.5 665.4,87.4 664,88.8 662.5,89.2 661.1,89.5 659.7,89.7 658.3,90 656.8,90.2 655.4,90.4 654,90.7 652.5,90.9 651.1,91.2 649.7,91.4 648.2,91.6 646.8,91.8 645.4,92 644,92.2 642.5,92.4 641.1,92.5 639.7,92.6 638.2,92.7 636.8,92.8 635.4,92.9 633.9,92.9 632.5,93 631.1,93 629.7,93.1 628.2,93.2 626.8,93.2 625.4,93.3 623.9,93.4 622.5,93.4 621.1,93.5 619.6,93.6 618.2,93.6 616.8,93.7 615.4,93.8 613.9,93.9 612.5,93.9 611.1,94 609.6,94.1 608.2,94.1 606.8,94.2 605.3,94.3 603.9,94.3 602.5,94.4 601.1,94.5 599.6,94.5 598.2,94.6 596.8,94.6 595.3,94.7 593.9,94.7 592.5,94.8 591,94.8 589.6,94.8 588.2,94.9 586.8,94.9 585.3,95 583.9,95 582.5,95.1 581,95.1 579.6,95.1 578.2,95.2 576.7,95.2 575.3,95.2 573.9,95.3 572.5,95.3 571,95.4 569.6,95.4 568.2,95.4 566.7,95.5 565.3,95.5 563.9,95.5 562.4,95.6 561,95.6 559.6,95.7 558.2,95.7 556.7,95.8 555.3,95.8 553.9,95.9 552.4,95.9 551,96 549.6,96 548.1,96.1 546.7,96.1 545.3,96.2 543.9,96.3 542.4,96.3 541,96.4 539.6,96.5 538.1,96.5 536.7,96.6 535.3,96.7 533.8,96.7 532.4,96.8 531,96.9 529.6,97 528.1,97.1 526.7,97.1 525.3,97.2 523.8,97.3 522.4,97.4 521,97.4 519.5,97.5 518.1,97.6 516.7,97.7 515.3,97.8 513.8,97.8 512.4,97.9 511,98 509.5,98.1 508.1,98.1 506.7,98.2 505.2,98.3 503.8,98.4 502.4,98.5 501,98.6 499.5,98.6 498.1,98.7 496.7,98.8 495.2,98.9 493.8,99 492.4,99.1 490.9,99.2 489.5,99.3 488.1,99.4 486.7,99.5 485.2,99.6 483.8,99.7 482.4,99.9 480.9,100 479.5,100.1 478.1,100.2 476.6,100.4 475.2,100.5 473.8,100.6 472.4,100.8 470.9,100.9 469.5,101.1 468.1,101.2 466.6,101.4 465.2,101.5 463.8,101.7 462.3,101.9 460.9,102 459.5,102.2 458.1,102.4 456.6,102.5 455.2,102.7 453.8,102.9 452.3,103 450.9,103.2 449.5,103.4 448,103.7 446.6,103.9 445.2,104.2 443.8,104.6 442.3,105.2 440.9,105.8 439.5,106.5 438,107.1 436.6,107.6" fill="none" stroke="#000000" stroke-width="1.0" stroke-linejoin="round" marker-start="url(#mbk)" marker-mid="url(#mbk)" marker-end="url(#mbk)" />
<polyline points="436.6,121.3 438,105 439.5,99.5 440.9,96.8 442.3,95.1 443.8,93.8 445.2,92.7 446.6,91.8 448,91.1 449.5,90.4 450.9,89.9 452.3,89.5 453.8,89.1 455.2,88.8 456.6,88.5 458.1,88.3 459.5,88.1 460.9,87.9 462.3,87.7 463.8,87.6 465.2,87.5 466.6,87.4 468.1,87.2 469.5,87.2 470.9,87.1 472.4,87 473.8,86.9 475.2,86.8 476.6,86.8 478.1,86.7 479.5,86.6 480.9,86.5 482.4,86.5 483.8,86.4 485.2,86.3 486.7,86.3 488.1,86.2 489.5,86.2 490.9,86.1 492.4,86 493.8,86 495.2,85.9 496.7,85.8 498.1,85.8 499.5,85.7 501,85.7 502.4,85.6 503.8,85.6 505.2,85.5 506.7,85.4 508.1,85.4 509.5,85.3 511,85.3 512.4,85.2 513.8,85.2 515.3,85.1 516.7,85.1 518.1,85 519.5,85 521,85 522.4,84.9 523.8,84.9 525.3,84.8 526.7,84.8 528.1,84.8 529.6,84.7 531,84.7 532.4,84.7 533.8,84.7 535.3,84.6 536.7,84.6 538.1,84.6 539.6,84.6 541,84.5 542.4,84.5 543.9,84.5 545.3,84.5 546.7,84.5 548.1,84.5 549.6,84.5 551,84.5 552.4,84.5 553.9,84.5 555.3,84.6 556.7,84.6 558.2,84.7 559.6,84.7 561,84.8 562.4,84.9 563.9,85 565.3,85.1 566.7,85.2 568.2,85.2 569.6,85.4 571,85.5 572.5,85.6 573.9,85.7 575.3,85.8 576.7,85.9 578.2,86 579.6,86.1 581,86.2 582.5,86.3 583.9,86.4 585.3,86.5 586.8,86.6 588.2,86.6 589.6,86.7 591,86.8 592.5,86.8 593.9,86.9 595.3,86.9 596.8,87 598.2,87 599.6,87 601.1,87 602.5,87 603.9,87 605.3,87 606.8,87 608.2,87 609.6,87 611.1,87 612.5,87 613.9,87 615.4,87 616.8,87 618.2,87 619.6,87 621.1,87 622.5,87 623.9,87 625.4,87 626.8,87 628.2,86.9 629.7,86.9 631.1,86.8 632.5,86.7 633.9,86.6 635.4,86.4 636.8,86.3 638.2,86.1 639.7,86 641.1,85.8 642.5,85.6 644,85.4 645.4,85.3 646.8,85 648.2,84.8 649.7,84.5 651.1,84.1 652.5,83.8 654,83.4 655.4,83 656.8,82.6 658.3,82.1 659.7,81.7 661.1,81.3 662.5,80.9 664,80.5 665.4,80.1 665.4,84.6 664,90.7 662.5,92.1 661.1,92.6 659.7,93 658.3,93.3 656.8,93.5 655.4,93.8 654,94 652.5,94.2 651.1,94.4 649.7,94.6 648.2,94.7 646.8,94.9 645.4,95.1 644,95.3 642.5,95.4 641.1,95.6 639.7,95.7 638.2,95.9 636.8,96.1 635.4,96.2 633.9,96.3 632.5,96.5 631.1,96.6 629.7,96.8 628.2,96.9 626.8,97 625.4,97.2 623.9,97.3 622.5,97.4 621.1,97.6 619.6,97.7 618.2,97.9 616.8,98 615.4,98.1 613.9,98.3 612.5,98.4 611.1,98.5 609.6,98.7 608.2,98.8 606.8,98.9 605.3,99.1 603.9,99.2 602.5,99.3 601.1,99.4 599.6,99.6 598.2,99.7 596.8,99.8 595.3,99.9 593.9,100 592.5,100.1 591,100.1 589.6,100.2 588.2,100.3 586.8,100.4 585.3,100.4 583.9,100.5 582.5,100.5 581,100.6 579.6,100.6 578.2,100.7 576.7,100.7 575.3,100.8 573.9,100.8 572.5,100.8 571,100.9 569.6,100.9 568.2,101 566.7,101.1 565.3,101.1 563.9,101.2 562.4,101.3 561,101.3 559.6,101.4 558.2,101.5 556.7,101.7 555.3,101.9 553.9,102 552.4,102.2 551,102.4 549.6,102.5 548.1,102.7 546.7,102.9 545.3,103 543.9,103.2 542.4,103.3 541,103.5 539.6,103.6 538.1,103.8 536.7,104 535.3,104.1 533.8,104.3 532.4,104.4 531,104.6 529.6,104.7 528.1,104.9 526.7,105 525.3,105.1 523.8,105.3 522.4,105.4 521,105.6 519.5,105.7 518.1,105.9 516.7,106 515.3,106.2 513.8,106.3 512.4,106.5 511,106.6 509.5,106.7 508.1,106.9 506.7,107 505.2,107.2 503.8,107.3 502.4,107.4 501,107.6 499.5,107.7 498.1,107.8 496.7,108 495.2,108.1 493.8,108.2 492.4,108.4 490.9,108.5 489.5,108.6 488.1,108.8 486.7,108.9 485.2,109 483.8,109.2 482.4,109.3 480.9,109.5 479.5,109.7 478.1,109.8 476.6,110 475.2,110.2 473.8,110.4 472.4,110.5 470.9,110.7 469.5,110.9 468.1,111.1 466.6,111.4 465.2,111.6 463.8,111.8 462.3,112.1 460.9,112.3 459.5,112.6 458.1,112.9 456.6,113.2 455.2,113.5 453.8,113.9 452.3,114.3 450.9,114.7 449.5,115.1 448,115.6 446.6,116.1 445.2,116.6 443.8,117.2 442.3,118 440.9,118.8 439.5,119.6 438,120.5 436.6,121.3" fill="none" stroke="#ff0000" stroke-width="1.0" stroke-linejoin="round" marker-start="url(#mbr)" marker-mid="url(#mbr)" marker-end="url(#mbr)" />
<polyline points="436.6,137.4 438,108.1 439.5,98.2 440.9,93.6 442.3,90.6 443.8,88.3 445.2,86.5 446.6,85 448,83.8 449.5,82.8 450.9,81.9 452.3,81.2 453.8,80.6 455.2,80.1 456.6,79.6 458.1,79.2 459.5,78.9 460.9,78.5 462.3,78.3 463.8,78 465.2,77.8 466.6,77.5 468.1,77.3 469.5,77.1 470.9,77 472.4,76.8 473.8,76.7 475.2,76.5 476.6,76.4 478.1,76.3 479.5,76.2 480.9,76.1 482.4,76 483.8,75.9 485.2,75.8 486.7,75.7 488.1,75.7 489.5,75.6 490.9,75.5 492.4,75.4 493.8,75.3 495.2,75.2 496.7,75.2 498.1,75.1 499.5,75 501,74.9 502.4,74.8 503.8,74.8 505.2,74.7 506.7,74.6 508.1,74.6 509.5,74.5 511,74.4 512.4,74.4 513.8,74.3 515.3,74.3 516.7,74.2 518.1,74.2 519.5,74.1 521,74.1 522.4,74.1 523.8,74.1 525.3,74 526.7,74 528.1,74 529.6,74 531,74 532.4,74 533.8,74 535.3,74.1 536.7,74.1 538.1,74.1 539.6,74.2 541,74.2 542.4,74.3 543.9,74.4 545.3,74.4 546.7,74.5 548.1,74.6 549.6,74.7 551,74.7 552.4,74.8 553.9,74.9 555.3,75 556.7,75.1 558.2,75.2 559.6,75.3 561,75.4 562.4,75.5 563.9,75.6 565.3,75.8 566.7,75.9 568.2,76.1 569.6,76.3 571,76.5 572.5,76.7 573.9,76.9 575.3,77.1 576.7,77.4 578.2,77.6 579.6,77.8 581,78 582.5,78.2 583.9,78.4 585.3,78.6 586.8,78.8 588.2,79 589.6,79.2 591,79.3 592.5,79.5 593.9,79.6 595.3,79.7 596.8,79.7 598.2,79.8 599.6,79.8 601.1,79.8 602.5,79.8 603.9,79.8 605.3,79.8 606.8,79.8 608.2,79.8 609.6,79.8 611.1,79.8 612.5,79.8 613.9,79.8 615.4,79.8 616.8,79.8 618.2,79.8 619.6,79.8 621.1,79.8 622.5,79.8 623.9,79.8 625.4,79.8 626.8,79.8 628.2,79.8 629.7,79.8 631.1,79.8 632.5,79.7 633.9,79.7 635.4,79.6 636.8,79.5 638.2,79.3 639.7,79.1 641.1,78.9 642.5,78.7 644,78.5 645.4,78.3 646.8,78.1 648.2,77.8 649.7,77.6 651.1,77.3 652.5,76.9 654,76.5 655.4,76 656.8,75.5 658.3,75 659.7,74.4 661.1,73.9 662.5,73.3 664,72.7 665.4,72.2 665.4,79.7 664,90.1 662.5,92.6 661.1,93.6 659.7,94.4 658.3,95.2 656.8,95.9 655.4,96.6 654,97.2 652.5,97.8 651.1,98.4 649.7,98.8 648.2,99.2 646.8,99.5 645.4,99.8 644,100 642.5,100.2 641.1,100.4 639.7,100.6 638.2,100.8 636.8,100.9 635.4,101.1 633.9,101.2 632.5,101.4 631.1,101.5 629.7,101.7 628.2,101.8 626.8,102 625.4,102.2 623.9,102.3 622.5,102.5 621.1,102.7 619.6,102.9 618.2,103.1 616.8,103.3 615.4,103.6 613.9,103.8 612.5,104 611.1,104.2 609.6,104.4 608.2,104.6 606.8,104.8 605.3,105 603.9,105.2 602.5,105.4 601.1,105.6 599.6,105.8 598.2,106 596.8,106.2 595.3,106.3 593.9,106.5 592.5,106.7 591,106.8 589.6,106.9 588.2,107.1 586.8,107.2 585.3,107.3 583.9,107.4 582.5,107.5 581,107.6 579.6,107.6 578.2,107.7 576.7,107.8 575.3,107.9 573.9,108 572.5,108.1 571,108.1 569.6,108.2 568.2,108.3 566.7,108.4 565.3,108.5 563.9,108.6 562.4,108.8 561,108.9 559.6,109 558.2,109.2 556.7,109.4 555.3,109.7 553.9,109.9 552.4,110.2 551,110.4 549.6,110.5 548.1,110.7 546.7,110.8 545.3,110.9 543.9,111 542.4,111.2 541,111.3 539.6,111.4 538.1,111.5 536.7,111.6 535.3,111.7 533.8,111.9 532.4,112 531,112.2 529.6,112.3 528.1,112.5 526.7,112.7 525.3,112.8 523.8,113 522.4,113.2 521,113.4 519.5,113.6 518.1,113.8 516.7,114 515.3,114.2 513.8,114.4 512.4,114.6 511,114.8 509.5,115.1 508.1,115.3 506.7,115.5 505.2,115.7 503.8,115.9 502.4,116.1 501,116.3 499.5,116.6 498.1,116.8 496.7,117 495.2,117.2 493.8,117.5 492.4,117.7 490.9,117.9 489.5,118.2 488.1,118.4 486.7,118.7 485.2,118.9 483.8,119.2 482.4,119.4 480.9,119.7 479.5,120 478.1,120.3 476.6,120.6 475.2,120.9 473.8,121.2 472.4,121.5 470.9,121.8 469.5,122.1 468.1,122.4 466.6,122.8 465.2,123.2 463.8,123.5 462.3,123.9 460.9,124.4 459.5,124.8 458.1,125.2 456.6,125.7 455.2,126.2 453.8,126.8 452.3,127.3 450.9,128 449.5,128.6 448,129.3 446.6,130 445.2,130.8 443.8,131.7 442.3,132.8 440.9,133.9 439.5,135.1 438,136.3 436.6,137.4" fill="none" stroke="#0000ff" stroke-width="1.0" stroke-linejoin="round" marker-start="url(#mbb)" marker-mid="url(#mbb)" marker-end="url(#mbb)" />
<polyline points="436.6,165.9 438,114.5 439.5,97.3 440.9,89.2 442.3,84 443.8,80 445.2,76.9 446.6,74.4 448,72.3 449.5,70.6 450.9,69.3 452.3,68.1 453.8,67.1 455.2,66.1 456.6,65.3 458.1,64.6 459.5,64 460.9,63.5 462.3,63 463.8,62.6 465.2,62.3 466.6,62 468.1,61.8 469.5,61.7 470.9,61.5 472.4,61.4 473.8,61.3 475.2,61.2 476.6,61.1 478.1,61.1 479.5,61 480.9,61 482.4,60.9 483.8,60.9 485.2,60.8 486.7,60.8 488.1,60.7 489.5,60.6 490.9,60.6 492.4,60.5 493.8,60.5 495.2,60.4 496.7,60.3 498.1,60.2 499.5,60.1 501,60 502.4,59.9 503.8,59.8 505.2,59.7 506.7,59.6 508.1,59.5 509.5,59.4 511,59.3 512.4,59.2 513.8,59.1 515.3,59 516.7,58.9 518.1,58.8 519.5,58.8 521,58.7 522.4,58.6 523.8,58.5 525.3,58.4 526.7,58.3 528.1,58.3 529.6,58.2 531,58.1 532.4,58.1 533.8,58 535.3,58 536.7,58 538.1,58 539.6,58 541,58.1 542.4,58.1 543.9,58.2 545.3,58.3 546.7,58.4 548.1,58.5 549.6,58.6 551,58.8 552.4,58.9 553.9,59 555.3,59.2 556.7,59.3 558.2,59.5 559.6,59.7 561,59.8 562.4,60.1 563.9,60.3 565.3,60.7 566.7,61 568.2,61.4 569.6,61.8 571,62.2 572.5,62.6 573.9,63 575.3,63.4 576.7,63.8 578.2,64.1 579.6,64.4 581,64.7 582.5,64.9 583.9,65.2 585.3,65.4 586.8,65.7 588.2,65.9 589.6,66.1 591,66.4 592.5,66.6 593.9,66.8 595.3,66.9 596.8,67.1 598.2,67.2 599.6,67.4 601.1,67.5 602.5,67.6 603.9,67.7 605.3,67.8 606.8,67.9 608.2,68 609.6,68.1 611.1,68.2 612.5,68.3 613.9,68.4 615.4,68.4 616.8,68.5 618.2,68.5 619.6,68.5 621.1,68.5 622.5,68.5 623.9,68.5 625.4,68.4 626.8,68.4 628.2,68.3 629.7,68.2 631.1,68.1 632.5,68 633.9,67.9 635.4,67.8 636.8,67.7 638.2,67.6 639.7,67.4 641.1,67.3 642.5,67 644,66.6 645.4,66.2 646.8,65.7 648.2,65.2 649.7,64.6 651.1,63.9 652.5,63.3 654,62.6 655.4,61.9 656.8,61.1 658.3,60.2 659.7,59.2 661.1,58.1 662.5,57 664,55.9 665.4,54.9 665.4,68.4 664,87.3 662.5,92.3 661.1,95.7 659.7,98.5 658.3,100.3 656.8,101.6 655.4,102.7 654,103.6 652.5,104.4 651.1,105.2 649.7,105.8 648.2,106.4 646.8,106.9 645.4,107.4 644,107.9 642.5,108.3 641.1,108.7 639.7,109.1 638.2,109.5 636.8,109.8 635.4,110.2 633.9,110.5 632.5,110.8 631.1,111.1 629.7,111.4 628.2,111.7 626.8,111.9 625.4,112.2 623.9,112.5 622.5,112.8 621.1,113 619.6,113.3 618.2,113.5 616.8,113.7 615.4,114 613.9,114.2 612.5,114.4 611.1,114.6 609.6,114.8 608.2,115 606.8,115.2 605.3,115.4 603.9,115.6 602.5,115.8 601.1,116 599.6,116.2 598.2,116.4 596.8,116.7 595.3,116.9 593.9,117.1 592.5,117.4 591,117.6 589.6,117.9 588.2,118.1 586.8,118.4 585.3,118.7 583.9,119 582.5,119.3 581,119.6 579.6,119.9 578.2,120.2 576.7,120.5 575.3,120.8 573.9,121.2 572.5,121.5 571,121.8 569.6,122.1 568.2,122.5 566.7,122.8 565.3,123.1 563.9,123.4 562.4,123.8 561,124.1 559.6,124.4 558.2,124.7 556.7,125 555.3,125.3 553.9,125.6 552.4,126 551,126.3 549.6,126.6 548.1,126.9 546.7,127.3 545.3,127.6 543.9,128 542.4,128.3 541,128.6 539.6,129 538.1,129.3 536.7,129.6 535.3,129.8 533.8,130.1 532.4,130.3 531,130.5 529.6,130.7 528.1,130.9 526.7,131.1 525.3,131.3 523.8,131.5 522.4,131.7 521,131.8 519.5,132 518.1,132.2 516.7,132.3 515.3,132.5 513.8,132.7 512.4,132.8 511,133 509.5,133.2 508.1,133.4 506.7,133.6 505.2,133.8 503.8,134 502.4,134.2 501,134.4 499.5,134.6 498.1,134.8 496.7,135 495.2,135.2 493.8,135.4 492.4,135.6 490.9,135.8 489.5,136 488.1,136.2 486.7,136.5 485.2,136.7 483.8,137 482.4,137.3 480.9,137.6 479.5,137.9 478.1,138.2 476.6,138.6 475.2,139 473.8,139.5 472.4,140 470.9,140.6 469.5,141.2 468.1,141.8 466.6,142.5 465.2,143.2 463.8,144 462.3,144.7 460.9,145.5 459.5,146.3 458.1,147.2 456.6,148.1 455.2,149.1 453.8,150.1 452.3,151.3 450.9,152.4 449.5,153.6 448,154.9 446.6,156.2 445.2,157.4 443.8,158.7 442.3,160.1 440.9,161.6 439.5,163.1 438,164.5 436.6,165.9" fill="none" stroke="#008080" stroke-width="1.0" stroke-linejoin="round" marker-start="url(#mbt)" marker-mid="url(#mbt)" marker-end="url(#mbt)" />
<polyline points="436.6,188.3 438,117.2 439.5,93.4 440.9,82.1 442.3,74.9 443.8,69.5 445.2,65.2 446.6,61.8 448,58.9 449.5,56.6 450.9,54.8 452.3,53.2 453.8,52 455.2,51 456.6,50.2 458.1,49.5 459.5,48.8 460.9,48.2 462.3,47.6 463.8,47.1 465.2,46.7 466.6,46.5 468.1,46.3 469.5,46.1 470.9,45.9 472.4,45.8 473.8,45.7 475.2,45.6 476.6,45.6 478.1,45.5 479.5,45.5 480.9,45.4 482.4,45.4 483.8,45.3 485.2,45.3 486.7,45.3 488.1,45.2 489.5,45.2 490.9,45.2 492.4,45.1 493.8,45.1 495.2,45 496.7,45 498.1,44.9 499.5,44.9 501,44.8 502.4,44.7 503.8,44.7 505.2,44.6 506.7,44.5 508.1,44.4 509.5,44.4 511,44.3 512.4,44.2 513.8,44.1 515.3,44.1 516.7,44 518.1,43.9 519.5,43.9 521,43.8 522.4,43.7 523.8,43.6 525.3,43.5 526.7,43.5 528.1,43.4 529.6,43.3 531,43.3 532.4,43.2 533.8,43.2 535.3,43.2 536.7,43.2 538.1,43.3 539.6,43.4 541,43.5 542.4,43.7 543.9,43.8 545.3,43.9 546.7,44.1 548.1,44.2 549.6,44.4 551,44.6 552.4,44.9 553.9,45.1 555.3,45.4 556.7,45.6 558.2,45.9 559.6,46.1 561,46.4 562.4,46.7 563.9,46.9 565.3,47.2 566.7,47.5 568.2,47.8 569.6,48.1 571,48.5 572.5,48.8 573.9,49.1 575.3,49.5 576.7,49.8 578.2,50.2 579.6,50.5 581,50.9 582.5,51.3 583.9,51.7 585.3,52.1 586.8,52.6 588.2,53 589.6,53.5 591,53.9 592.5,54.4 593.9,54.8 595.3,55.2 596.8,55.5 598.2,55.9 599.6,56.1 601.1,56.4 602.5,56.6 603.9,56.9 605.3,57.1 606.8,57.3 608.2,57.6 609.6,57.8 611.1,58 612.5,58.1 613.9,58.3 615.4,58.4 616.8,58.5 618.2,58.6 619.6,58.6 621.1,58.6 622.5,58.6 623.9,58.5 625.4,58.5 626.8,58.4 628.2,58.3 629.7,58.3 631.1,58.2 632.5,58 633.9,57.9 635.4,57.8 636.8,57.6 638.2,57.5 639.7,57.3 641.1,57.2 642.5,56.9 644,56.6 645.4,56.2 646.8,55.8 648.2,55.3 649.7,54.7 651.1,54.2 652.5,53.6 654,53 655.4,52.3 656.8,51.5 658.3,50.6 659.7,49.6 661.1,48.5 662.5,47.4 664,46.2 665.4,45.2 665.4,63.6 664,89.1 662.5,95.3 661.1,98.7 659.7,102.2 658.3,104.9 656.8,107.1 655.4,108.9 654,110.4 652.5,111.4 651.1,112.2 649.7,112.9 648.2,113.6 646.8,114.1 645.4,114.6 644,115 642.5,115.4 641.1,115.8 639.7,116.1 638.2,116.3 636.8,116.6 635.4,116.8 633.9,117 632.5,117.2 631.1,117.4 629.7,117.6 628.2,117.8 626.8,118.1 625.4,118.3 623.9,118.6 622.5,118.9 621.1,119.2 619.6,119.5 618.2,119.8 616.8,120.1 615.4,120.4 613.9,120.8 612.5,121.1 611.1,121.5 609.6,121.8 608.2,122.1 606.8,122.5 605.3,122.9 603.9,123.2 602.5,123.6 601.1,124 599.6,124.3 598.2,124.7 596.8,125.1 595.3,125.4 593.9,125.8 592.5,126.2 591,126.5 589.6,126.9 588.2,127.3 586.8,127.6 585.3,128 583.9,128.4 582.5,128.8 581,129.1 579.6,129.5 578.2,129.9 576.7,130.3 575.3,130.7 573.9,131.1 572.5,131.5 571,131.9 569.6,132.3 568.2,132.7 566.7,133.1 565.3,133.5 563.9,133.9 562.4,134.3 561,134.7 559.6,135.1 558.2,135.6 556.7,136 555.3,136.5 553.9,136.9 552.4,137.3 551,137.7 549.6,138.1 548.1,138.4 546.7,138.8 545.3,139.1 543.9,139.4 542.4,139.6 541,139.9 539.6,140.2 538.1,140.5 536.7,140.7 535.3,141 533.8,141.3 532.4,141.6 531,141.9 529.6,142.2 528.1,142.4 526.7,142.7 525.3,143 523.8,143.3 522.4,143.5 521,143.8 519.5,144.1 518.1,144.4 516.7,144.6 515.3,144.9 513.8,145.2 512.4,145.5 511,145.8 509.5,146.1 508.1,146.4 506.7,146.7 505.2,147.1 503.8,147.4 502.4,147.7 501,148 499.5,148.3 498.1,148.7 496.7,149 495.2,149.3 493.8,149.6 492.4,150 490.9,150.3 489.5,150.7 488.1,151.1 486.7,151.5 485.2,151.9 483.8,152.3 482.4,152.8 480.9,153.2 479.5,153.7 478.1,154.2 476.6,154.8 475.2,155.4 473.8,156.1 472.4,156.8 470.9,157.5 469.5,158.4 468.1,159.2 466.6,160.1 465.2,161.1 463.8,162 462.3,163.1 460.9,164.1 459.5,165.2 458.1,166.3 456.6,167.4 455.2,168.7 453.8,170.1 452.3,171.6 450.9,173.1 449.5,174.7 448,176.2 446.6,177.7 445.2,179.2 443.8,180.7 442.3,182.2 440.9,183.8 439.5,185.3 438,186.8 436.6,188.3" fill="none" stroke="#ff00ff" stroke-width="1.0" stroke-linejoin="round" marker-start="url(#mbm)" marker-mid="url(#mbm)" marker-end="url(#mbm)" />
<line x1="487.2" y1="178.0" x2="507.6" y2="178.0" stroke="#000000" stroke-width="1.2" opacity="0.75"/>
<use href="#lgks" x="497.4" y="178.0"/>
<text x="512.2" y="181.0" font-family="Liberation Sans, sans-serif" font-size="15.3">10 mV/s</text>
<line x1="572" y1="178.0" x2="592.4" y2="178.0" stroke="#ff0000" stroke-width="1.2" opacity="0.75"/>
<use href="#lgrs" x="582.2" y="178.0"/>
<text x="595.8" y="181.0" font-family="Liberation Sans, sans-serif" font-size="15.3">50 mV/s</text>
<line x1="487.2" y1="198.9" x2="507.6" y2="198.9" stroke="#0000ff" stroke-width="1.2" opacity="0.75"/>
<use href="#lgbs" x="497.4" y="198.9"/>
<text x="512.2" y="201.9" font-family="Liberation Sans, sans-serif" font-size="15.3">100 mV/s</text>
<line x1="580.7" y1="198.9" x2="601.1" y2="198.9" stroke="#008080" stroke-width="1.2" opacity="0.75"/>
<use href="#lgts" x="590.9" y="198.9"/>
<text x="604.5" y="201.9" font-family="Liberation Sans, sans-serif" font-size="15.3">200 mV/s</text>
<line x1="487.2" y1="219.8" x2="507.6" y2="219.8" stroke="#ff00ff" stroke-width="1.2" opacity="0.75"/>
<use href="#lgms" x="497.4" y="219.8"/>
<text x="512.2" y="222.8" font-family="Liberation Sans, sans-serif" font-size="15.3">300 mV/s</text>
<text x="9.5" y="332.1" font-family="Liberation Serif, serif" font-size="32.5">(c)</text>
<rect x="55.8" y="326" width="264.2" height="214.79999999999995" fill="none" stroke="#000" stroke-width="1.8"/>
<line x1="73.8" y1="540.8" x2="73.8" y2="545.4" stroke="#000" stroke-width="1.5"/>
<text x="73.8" y="561.5" font-family="Liberation Sans, sans-serif" font-size="16.2" text-anchor="middle">-0.8</text>
<line x1="130.6" y1="540.8" x2="130.6" y2="545.4" stroke="#000" stroke-width="1.5"/>
<text x="130.6" y="561.5" font-family="Liberation Sans, sans-serif" font-size="16.2" text-anchor="middle">-0.4</text>
<line x1="187.4" y1="540.8" x2="187.4" y2="545.4" stroke="#000" stroke-width="1.5"/>
<text x="187.4" y="561.5" font-family="Liberation Sans, sans-serif" font-size="16.2" text-anchor="middle">0.0</text>
<line x1="244.2" y1="540.8" x2="244.2" y2="545.4" stroke="#000" stroke-width="1.5"/>
<text x="244.2" y="561.5" font-family="Liberation Sans, sans-serif" font-size="16.2" text-anchor="middle">0.4</text>
<line x1="301.0" y1="540.8" x2="301.0" y2="545.4" stroke="#000" stroke-width="1.5"/>
<text x="301.0" y="561.5" font-family="Liberation Sans, sans-serif" font-size="16.2" text-anchor="middle">0.8</text>
<line x1="51.199999999999996" y1="363.4" x2="55.8" y2="363.4" stroke="#000" stroke-width="1.5"/>
<text x="47.6" y="368.0" font-family="Liberation Sans, sans-serif" font-size="16.2" text-anchor="end">13</text>
<line x1="51.199999999999996" y1="414.5" x2="55.8" y2="414.5" stroke="#000" stroke-width="1.5"/>
<text x="47.6" y="419.1" font-family="Liberation Sans, sans-serif" font-size="16.2" text-anchor="end">0</text>
<line x1="51.199999999999996" y1="465.6" x2="55.8" y2="465.6" stroke="#000" stroke-width="1.5"/>
<text x="47.6" y="470.2" font-family="Liberation Sans, sans-serif" font-size="16.2" text-anchor="end">-13</text>
<line x1="51.199999999999996" y1="516.8" x2="55.8" y2="516.8" stroke="#000" stroke-width="1.5"/>
<text x="47.6" y="521.4" font-family="Liberation Sans, sans-serif" font-size="16.2" text-anchor="end">-26</text>
<text transform="translate(17,434.2) rotate(-90)" font-family="Liberation Serif, serif" font-size="20" text-anchor="middle" >J (mA/cm<tspan font-size="0.62em" dy="-0.55em">2</tspan><tspan dy="0.34em">)</tspan></text>
<text x="187.6" y="585.8" font-family="Liberation Serif, serif" font-size="20" text-anchor="middle" >Potential (V vs. Ag/AgCl)</text>
<polyline points="73.9,445.9 74.9,433.1 75.9,424.2 76.9,419.4 77.9,416 78.9,413.6 79.9,411.8 80.9,410.3 81.9,409 82.9,407.6 83.9,406.3 84.9,405.1 85.9,403.9 86.9,402.9 87.9,402 88.9,401.2 89.9,400.6 90.9,400 91.9,399.4 92.9,398.9 93.9,398.4 94.9,398 95.9,397.7 96.9,397.6 97.9,397.5 98.9,397.5 99.9,397.5 100.9,397.5 101.9,397.5 102.9,397.5 103.9,397.5 104.9,397.5 105.9,397.5 106.9,397.5 107.9,397.5 108.9,397.5 109.9,397.6 110.9,397.6 111.9,397.6 112.9,397.6 113.9,397.6 114.9,397.6 115.9,397.6 116.9,397.6 117.9,397.6 118.9,397.6 119.9,397.6 120.9,397.6 121.9,397.6 122.9,397.6 123.9,397.6 124.9,397.6 125.9,397.5 126.9,397.5 127.9,397.5 128.9,397.4 129.9,397.4 130.9,397.3 131.9,397.3 132.9,397.2 133.9,397.1 134.9,397.1 135.9,397 136.9,396.9 137.9,396.9 138.9,396.8 139.9,396.7 140.9,396.7 141.9,396.6 142.9,396.5 143.9,396.4 144.9,396.4 145.9,396.3 146.9,396.2 147.9,396.2 148.9,396.1 149.9,396 150.9,396 151.9,395.9 152.9,395.9 153.9,395.8 154.9,395.8 155.9,395.7 156.9,395.7 157.9,395.7 158.9,395.6 159.9,395.6 160.9,395.6 161.9,395.6 162.9,395.6 163.9,395.6 164.9,395.6 165.9,395.6 166.9,395.6 167.9,395.7 168.9,395.7 169.9,395.7 170.9,395.7 171.9,395.8 172.9,395.8 173.9,395.8 174.9,395.9 175.9,395.9 176.9,396 177.9,396 178.9,396 179.9,396.1 180.9,396.1 181.9,396.2 182.9,396.2 183.9,396.3 184.9,396.3 185.9,396.4 186.9,396.4 187.9,396.5 188.9,396.5 189.9,396.6 190.9,396.6 191.9,396.7 192.9,396.8 193.9,396.8 194.9,396.9 195.9,397 196.9,397.1 197.9,397.1 198.9,397.2 199.9,397.3 200.9,397.4 201.9,397.5 202.9,397.6 203.9,397.7 204.9,397.8 205.9,397.9 206.9,398 207.9,398.1 208.9,398.2 209.9,398.3 210.9,398.4 211.9,398.5 212.9,398.6 213.9,398.7 214.9,398.8 215.9,398.9 216.9,399 217.9,399.1 218.9,399.2 219.9,399.4 220.9,399.5 221.9,399.6 222.9,399.8 223.9,399.9 224.9,400 225.9,400.2 226.9,400.3 227.9,400.4 228.9,400.6 229.9,400.7 230.9,400.8 231.9,401 232.9,401.1 233.9,401.2 234.9,401.3 235.9,401.4 236.9,401.5 237.9,401.6 238.9,401.6 239.9,401.7 240.9,401.7 241.9,401.8 242.9,401.9 243.9,401.9 244.9,402 245.9,402 246.9,402.1 247.9,402.1 248.9,402.2 249.9,402.2 250.9,402.3 251.9,402.3 252.9,402.3 253.9,402.4 254.9,402.4 255.9,402.4 256.9,402.5 257.9,402.5 258.9,402.5 259.9,402.5 260.9,402.6 261.9,402.6 262.9,402.6 263.9,402.6 264.9,402.6 265.9,402.6 266.9,402.6 267.9,402.6 268.9,402.5 269.9,402.5 270.9,402.5 271.9,402.4 272.9,402.3 273.9,402.3 274.9,402.2 275.9,402.1 276.9,402.1 277.9,402 278.9,401.9 279.9,401.8 280.9,401.8 281.9,401.7 282.9,401.6 283.9,401.5 284.9,401.5 285.9,401.4 286.9,401.3 287.9,401.2 288.9,401.2 289.9,401.1 290.9,401 291.9,401 292.9,400.9 293.9,400.9 294.9,400.8 295.9,400.8 296.9,400.7 297.9,400.6 298.9,400.6 299.9,400.5 300.9,400.5 301.9,400.4 301.9,403.6 300.9,408.4 299.9,411.5 298.9,413.8 297.9,415.5 296.9,416.9 295.9,418.2 294.9,419.2 293.9,420.1 292.9,420.6 291.9,420.8 290.9,421 289.9,421.2 288.9,421.3 287.9,421.4 286.9,421.5 285.9,421.5 284.9,421.6 283.9,421.7 282.9,421.7 281.9,421.8 280.9,421.8 279.9,421.8 278.9,421.9 277.9,421.9 276.9,422 275.9,422 274.9,422 273.9,422 272.9,422.1 271.9,422.1 270.9,422.1 269.9,422.1 268.9,422.2 267.9,422.2 266.9,422.2 265.9,422.2 264.9,422.3 263.9,422.3 262.9,422.3 261.9,422.3 260.9,422.4 259.9,422.4 258.9,422.4 257.9,422.5 256.9,422.5 255.9,422.5 254.9,422.5 253.9,422.6 252.9,422.6 251.9,422.6 250.9,422.6 249.9,422.6 248.9,422.7 247.9,422.7 246.9,422.7 245.9,422.7 244.9,422.8 243.9,422.8 242.9,422.8 241.9,422.8 240.9,422.9 239.9,422.9 238.9,422.9 237.9,422.9 236.9,423 235.9,423 234.9,423 233.9,423.1 232.9,423.1 231.9,423.1 230.9,423.2 229.9,423.2 228.9,423.2 227.9,423.3 226.9,423.4 225.9,423.4 224.9,423.5 223.9,423.5 222.9,423.6 221.9,423.7 220.9,423.8 219.9,423.9 218.9,423.9 217.9,424 216.9,424.1 215.9,424.2 214.9,424.3 213.9,424.4 212.9,424.5 211.9,424.5 210.9,424.6 209.9,424.7 208.9,424.8 207.9,424.9 206.9,425 205.9,425 204.9,425.1 203.9,425.2 202.9,425.3 201.9,425.4 200.9,425.5 199.9,425.6 198.9,425.7 197.9,425.8 196.9,425.9 195.9,426 194.9,426.1 193.9,426.2 192.9,426.3 191.9,426.4 190.9,426.5 189.9,426.6 188.9,426.7 187.9,426.9 186.9,427 185.9,427.1 184.9,427.3 183.9,427.4 182.9,427.6 181.9,427.7 180.9,427.9 179.9,428 178.9,428.2 177.9,428.4 176.9,428.5 175.9,428.7 174.9,428.9 173.9,429 172.9,429.2 171.9,429.4 170.9,429.6 169.9,429.7 168.9,429.9 167.9,430.1 166.9,430.2 165.9,430.4 164.9,430.6 163.9,430.7 162.9,430.9 161.9,431 160.9,431.2 159.9,431.3 158.9,431.5 157.9,431.6 156.9,431.7 155.9,431.9 154.9,432 153.9,432.1 152.9,432.3 151.9,432.4 150.9,432.6 149.9,432.7 148.9,432.8 147.9,433 146.9,433.1 145.9,433.2 144.9,433.3 143.9,433.5 142.9,433.6 141.9,433.7 140.9,433.9 139.9,434 138.9,434.1 137.9,434.2 136.9,434.3 135.9,434.4 134.9,434.6 133.9,434.7 132.9,434.8 131.9,434.9 130.9,435 129.9,435.1 128.9,435.2 127.9,435.3 126.9,435.4 125.9,435.5 124.9,435.6 123.9,435.7 122.9,435.7 121.9,435.8 120.9,435.9 119.9,436 118.9,436.1 117.9,436.1 116.9,436.2 115.9,436.3 114.9,436.4 113.9,436.4 112.9,436.5 111.9,436.6 110.9,436.7 109.9,436.8 108.9,436.9 107.9,437 106.9,437 105.9,437.1 104.9,437.2 103.9,437.4 102.9,437.5 101.9,437.6 100.9,437.7 99.9,437.8 98.9,438 97.9,438.1 96.9,438.2 95.9,438.4 94.9,438.5 93.9,438.7 92.9,438.8 91.9,439 90.9,439.2 89.9,439.4 88.9,439.6 87.9,439.8 86.9,440 85.9,440.3 84.9,440.5 83.9,440.8 82.9,441.1 81.9,441.4 80.9,441.8 79.9,442.2 78.9,442.8 77.9,443.3 76.9,443.9 75.9,444.6 74.9,445.2 73.9,445.9" fill="none" stroke="#000000" stroke-width="1.0" stroke-linejoin="round" marker-start="url(#mck)" marker-mid="url(#mck)" marker-end="url(#mck)" />
<polyline points="74.3,466.7 75.3,456.1 76.3,447.4 77.3,440.1 78.3,433.9 79.3,429.2 80.3,425.3 81.3,421.9 82.3,419 83.3,416.4 84.3,414 85.3,411.8 86.3,409.7 87.3,407.8 88.3,406.1 89.3,404.4 90.3,402.7 91.3,401.2 92.3,399.7 93.3,398.3 94.3,397 95.3,395.7 96.3,394.6 97.3,393.6 98.3,392.5 99.3,391.5 100.3,390.6 101.3,389.7 102.3,388.8 103.3,388 104.3,387.3 105.3,386.7 106.3,386.1 107.3,385.6 108.3,385.1 109.3,384.7 110.3,384.3 111.3,383.9 112.3,383.6 113.3,383.3 114.3,383.1 115.3,383 116.3,382.9 117.3,382.7 118.3,382.7 119.3,382.6 120.3,382.5 121.3,382.4 122.3,382.4 123.3,382.3 124.3,382.2 125.3,382.2 126.3,382.1 127.3,382.1 128.3,382 129.3,382 130.3,382 131.3,381.9 132.3,381.9 133.3,381.8 134.3,381.8 135.3,381.7 136.3,381.7 137.3,381.6 138.3,381.6 139.3,381.5 140.3,381.5 141.3,381.5 142.3,381.4 143.3,381.4 144.3,381.3 145.3,381.3 146.3,381.2 147.3,381.2 148.3,381.2 149.3,381.1 150.3,381.1 151.3,381.1 152.3,381 153.3,381 154.3,381 155.3,381 156.3,381 157.3,380.9 158.3,380.9 159.3,380.9 160.3,380.9 161.3,380.9 162.3,380.9 163.3,380.9 164.3,380.9 165.3,380.9 166.3,380.9 167.3,380.9 168.3,381 169.3,381 170.3,381 171.3,381 172.3,381.1 173.3,381.1 174.3,381.1 175.3,381.2 176.3,381.2 177.3,381.2 178.3,381.3 179.3,381.3 180.3,381.4 181.3,381.4 182.3,381.4 183.3,381.5 184.3,381.5 185.3,381.6 186.3,381.6 187.3,381.7 188.3,381.7 189.3,381.8 190.3,381.8 191.3,381.9 192.3,381.9 193.3,382 194.3,382 195.3,382.1 196.3,382.1 197.3,382.2 198.3,382.2 199.3,382.3 200.3,382.4 201.3,382.5 202.3,382.5 203.3,382.6 204.3,382.7 205.3,382.8 206.3,382.8 207.3,382.9 208.3,383 209.3,383.1 210.3,383.2 211.3,383.3 212.3,383.4 213.3,383.5 214.3,383.6 215.3,383.7 216.3,383.9 217.3,384 218.3,384.2 219.3,384.3 220.3,384.5 221.3,384.7 222.3,385 223.3,385.2 224.3,385.4 225.3,385.6 226.3,385.9 227.3,386.1 228.3,386.4 229.3,386.7 230.3,386.9 231.3,387.2 232.3,387.4 233.3,387.7 234.3,388 235.3,388.2 236.3,388.5 237.3,388.7 238.3,388.9 239.3,389.2 240.3,389.4 241.3,389.6 242.3,389.8 243.3,390 244.3,390.2 245.3,390.5 246.3,390.7 247.3,390.9 248.3,391.1 249.3,391.3 250.3,391.4 251.3,391.6 252.3,391.7 253.3,391.9 254.3,392 255.3,392.2 256.3,392.3 257.3,392.5 258.3,392.6 259.3,392.7 260.3,392.8 261.3,392.9 262.3,393 263.3,393.1 264.3,393.1 265.3,393.1 266.3,393.1 267.3,393.1 268.3,393.1 269.3,393.1 270.3,393 271.3,393 272.3,393 273.3,393 274.3,392.9 275.3,392.9 276.3,392.9 277.3,392.8 278.3,392.8 279.3,392.7 280.3,392.7 281.3,392.6 282.3,392.5 283.3,392.4 284.3,392.3 285.3,392.2 286.3,392.1 287.3,392 288.3,391.9 289.3,391.8 290.3,391.7 291.3,391.6 292.3,391.5 293.3,391.4 294.3,391.3 295.3,391.2 296.3,391 297.3,390.9 298.3,390.8 299.3,390.7 300.3,390.6 301.3,390.5 302.3,390.4 302.3,393.5 301.3,398.3 300.3,402.8 299.3,406.8 298.3,410 297.3,412.3 296.3,414.3 295.3,416.1 294.3,417.6 293.3,418.9 292.3,419.9 291.3,420.8 290.3,421.6 289.3,422.3 288.3,423 287.3,423.6 286.3,424.1 285.3,424.6 284.3,425 283.3,425.3 282.3,425.6 281.3,425.9 280.3,426.2 279.3,426.4 278.3,426.7 277.3,426.9 276.3,427.1 275.3,427.3 274.3,427.5 273.3,427.7 272.3,427.9 271.3,428.1 270.3,428.3 269.3,428.4 268.3,428.6 267.3,428.7 266.3,428.8 265.3,429 264.3,429.1 263.3,429.2 262.3,429.2 261.3,429.3 260.3,429.4 259.3,429.4 258.3,429.5 257.3,429.5 256.3,429.6 255.3,429.6 254.3,429.7 253.3,429.7 252.3,429.7 251.3,429.8 250.3,429.8 249.3,429.8 248.3,429.8 247.3,429.9 246.3,429.9 245.3,429.9 244.3,429.9 243.3,429.9 242.3,430 241.3,430 240.3,430 239.3,430 238.3,430.1 237.3,430.1 236.3,430.1 235.3,430.2 234.3,430.2 233.3,430.2 232.3,430.3 231.3,430.3 230.3,430.4 229.3,430.4 228.3,430.5 227.3,430.6 226.3,430.7 225.3,430.8 224.3,430.9 223.3,431 222.3,431.2 221.3,431.3 220.3,431.5 219.3,431.6 218.3,431.8 217.3,431.9 216.3,432.1 215.3,432.3 214.3,432.4 213.3,432.6 212.3,432.8 211.3,433 210.3,433.1 209.3,433.3 208.3,433.5 207.3,433.7 206.3,433.9 205.3,434.2 204.3,434.4 203.3,434.6 202.3,434.9 201.3,435.1 200.3,435.4 199.3,435.6 198.3,435.9 197.3,436.1 196.3,436.4 195.3,436.6 194.3,436.9 193.3,437.2 192.3,437.4 191.3,437.7 190.3,437.9 189.3,438.2 188.3,438.4 187.3,438.7 186.3,438.9 185.3,439.2 184.3,439.5 183.3,439.7 182.3,440 181.3,440.3 180.3,440.6 179.3,440.8 178.3,441.1 177.3,441.4 176.3,441.6 175.3,441.9 174.3,442.2 173.3,442.4 172.3,442.7 171.3,443 170.3,443.2 169.3,443.5 168.3,443.7 167.3,444 166.3,444.2 165.3,444.4 164.3,444.6 163.3,444.9 162.3,445.1 161.3,445.3 160.3,445.4 159.3,445.6 158.3,445.8 157.3,446 156.3,446.1 155.3,446.3 154.3,446.4 153.3,446.6 152.3,446.7 151.3,446.8 150.3,447 149.3,447.1 148.3,447.2 147.3,447.4 146.3,447.5 145.3,447.6 144.3,447.7 143.3,447.9 142.3,448 141.3,448.1 140.3,448.2 139.3,448.4 138.3,448.5 137.3,448.6 136.3,448.8 135.3,448.9 134.3,449 133.3,449.2 132.3,449.3 131.3,449.5 130.3,449.7 129.3,449.8 128.3,450 127.3,450.1 126.3,450.3 125.3,450.5 124.3,450.7 123.3,450.8 122.3,451 121.3,451.2 120.3,451.3 119.3,451.5 118.3,451.7 117.3,451.9 116.3,452.1 115.3,452.3 114.3,452.5 113.3,452.7 112.3,452.9 111.3,453.1 110.3,453.3 109.3,453.5 108.3,453.7 107.3,453.9 106.3,454.1 105.3,454.4 104.3,454.6 103.3,454.8 102.3,455.1 101.3,455.3 100.3,455.5 99.3,455.8 98.3,456.1 97.3,456.3 96.3,456.6 95.3,456.9 94.3,457.2 93.3,457.5 92.3,457.8 91.3,458.1 90.3,458.4 89.3,458.8 88.3,459.1 87.3,459.5 86.3,459.9 85.3,460.3 84.3,460.7 83.3,461.1 82.3,461.6 81.3,462.2 80.3,462.8 79.3,463.4 78.3,464 77.3,464.6 76.3,465.3 75.3,466 74.3,466.7" fill="none" stroke="#ff0000" stroke-width="1.0" stroke-linejoin="round" marker-start="url(#mcr)" marker-mid="url(#mcr)" marker-end="url(#mcr)" />
<polyline points="73.9,483.1 74.9,476.3 75.9,469.6 76.9,463.1 77.9,456.3 78.9,449.5 79.9,443.6 80.9,438.9 81.9,435 82.9,431.6 83.9,428.4 84.9,425.4 85.9,422.4 86.9,419.4 87.9,416.6 88.9,413.8 89.9,411.2 90.9,408.7 91.9,406.4 92.9,404.3 93.9,402.3 94.9,400.4 95.9,398.6 96.9,396.9 97.9,395.2 98.9,393.7 99.9,392.2 100.9,390.7 101.9,389.3 102.9,387.9 103.9,386.5 104.9,385.2 105.9,384 106.9,382.9 107.9,381.9 108.9,381 109.9,380.2 110.9,379.5 111.9,378.9 112.9,378.3 113.9,377.8 114.9,377.3 115.9,376.8 116.9,376.4 117.9,375.9 118.9,375.5 119.9,375 120.9,374.6 121.9,374.2 122.9,373.7 123.9,373.3 124.9,372.9 125.9,372.5 126.9,372.1 127.9,371.7 128.9,371.4 129.9,371.1 130.9,370.8 131.9,370.6 132.9,370.4 133.9,370.2 134.9,370 135.9,369.8 136.9,369.6 137.9,369.4 138.9,369.3 139.9,369.1 140.9,368.9 141.9,368.8 142.9,368.7 143.9,368.5 144.9,368.4 145.9,368.3 146.9,368.1 147.9,368 148.9,367.9 149.9,367.8 150.9,367.7 151.9,367.6 152.9,367.5 153.9,367.4 154.9,367.3 155.9,367.2 156.9,367.1 157.9,367 158.9,366.9 159.9,366.9 160.9,366.8 161.9,366.7 162.9,366.6 163.9,366.5 164.9,366.5 165.9,366.4 166.9,366.3 167.9,366.3 168.9,366.3 169.9,366.2 170.9,366.2 171.9,366.2 172.9,366.2 173.9,366.2 174.9,366.3 175.9,366.4 176.9,366.5 177.9,366.6 178.9,366.7 179.9,366.8 180.9,367 181.9,367.2 182.9,367.3 183.9,367.5 184.9,367.7 185.9,367.8 186.9,368 187.9,368.2 188.9,368.3 189.9,368.5 190.9,368.6 191.9,368.8 192.9,368.9 193.9,369 194.9,369.2 195.9,369.3 196.9,369.4 197.9,369.6 198.9,369.7 199.9,369.8 200.9,370 201.9,370.1 202.9,370.3 203.9,370.4 204.9,370.6 205.9,370.7 206.9,370.9 207.9,371 208.9,371.2 209.9,371.4 210.9,371.5 211.9,371.7 212.9,371.9 213.9,372.1 214.9,372.3 215.9,372.5 216.9,372.7 217.9,373 218.9,373.2 219.9,373.5 220.9,373.8 221.9,374.1 222.9,374.4 223.9,374.8 224.9,375.1 225.9,375.4 226.9,375.8 227.9,376.1 228.9,376.5 229.9,376.8 230.9,377.1 231.9,377.5 232.9,377.8 233.9,378.1 234.9,378.5 235.9,378.8 236.9,379.1 237.9,379.4 238.9,379.6 239.9,379.9 240.9,380.1 241.9,380.4 242.9,380.6 243.9,380.8 244.9,381.1 245.9,381.3 246.9,381.5 247.9,381.7 248.9,381.9 249.9,382.1 250.9,382.2 251.9,382.4 252.9,382.5 253.9,382.7 254.9,382.8 255.9,382.9 256.9,383.1 257.9,383.2 258.9,383.3 259.9,383.4 260.9,383.5 261.9,383.6 262.9,383.6 263.9,383.7 264.9,383.7 265.9,383.7 266.9,383.7 267.9,383.7 268.9,383.7 269.9,383.7 270.9,383.7 271.9,383.7 272.9,383.7 273.9,383.7 274.9,383.6 275.9,383.6 276.9,383.6 277.9,383.6 278.9,383.6 279.9,383.5 280.9,383.5 281.9,383.4 282.9,383.4 283.9,383.3 284.9,383.2 285.9,383.1 286.9,383.1 287.9,383 288.9,382.9 289.9,382.8 290.9,382.7 291.9,382.6 292.9,382.5 293.9,382.4 294.9,382.3 295.9,382.2 296.9,382.1 297.9,382 298.9,381.9 299.9,381.8 300.9,381.7 301.9,381.5 302.9,381.4 301.9,388 300.9,393.9 299.9,399.1 298.9,403.3 297.9,406.9 296.9,410.1 295.9,412.9 294.9,415 293.9,416.6 292.9,418 291.9,419.1 290.9,420.1 289.9,421 288.9,421.8 287.9,422.6 286.9,423.4 285.9,424.2 284.9,425 283.9,425.9 282.9,426.6 281.9,427.4 280.9,428.1 279.9,428.8 278.9,429.5 277.9,430 276.9,430.5 275.9,430.9 274.9,431.3 273.9,431.6 272.9,431.8 271.9,432.1 270.9,432.3 269.9,432.6 268.9,432.8 267.9,433 266.9,433.2 265.9,433.3 264.9,433.5 263.9,433.6 262.9,433.8 261.9,433.9 260.9,434.1 259.9,434.2 258.9,434.3 257.9,434.5 256.9,434.6 255.9,434.7 254.9,434.8 253.9,434.9 252.9,435 251.9,435.1 250.9,435.2 249.9,435.2 248.9,435.3 247.9,435.4 246.9,435.5 245.9,435.6 244.9,435.6 243.9,435.7 242.9,435.8 241.9,435.9 240.9,435.9 239.9,436 238.9,436.1 237.9,436.2 236.9,436.3 235.9,436.4 234.9,436.4 233.9,436.6 232.9,436.7 231.9,436.8 230.9,436.9 229.9,437 228.9,437.1 227.9,437.3 226.9,437.4 225.9,437.6 224.9,437.7 223.9,437.9 222.9,438.1 221.9,438.2 220.9,438.4 219.9,438.6 218.9,438.8 217.9,439 216.9,439.2 215.9,439.4 214.9,439.6 213.9,439.9 212.9,440.1 211.9,440.3 210.9,440.6 209.9,440.8 208.9,441.1 207.9,441.4 206.9,441.7 205.9,442.1 204.9,442.4 203.9,442.8 202.9,443.2 201.9,443.6 200.9,444 199.9,444.5 198.9,444.9 197.9,445.3 196.9,445.7 195.9,446.2 194.9,446.6 193.9,447 192.9,447.4 191.9,447.7 190.9,448.1 189.9,448.4 188.9,448.8 187.9,449.1 186.9,449.4 185.9,449.7 184.9,450 183.9,450.3 182.9,450.6 181.9,450.9 180.9,451.2 179.9,451.5 178.9,451.8 177.9,452.1 176.9,452.4 175.9,452.7 174.9,453 173.9,453.2 172.9,453.5 171.9,453.8 170.9,454.1 169.9,454.3 168.9,454.6 167.9,454.9 166.9,455.1 165.9,455.4 164.9,455.7 163.9,455.9 162.9,456.2 161.9,456.4 160.9,456.7 159.9,456.9 158.9,457.2 157.9,457.4 156.9,457.6 155.9,457.9 154.9,458.1 153.9,458.3 152.9,458.5 151.9,458.8 150.9,459 149.9,459.2 148.9,459.4 147.9,459.6 146.9,459.8 145.9,460 144.9,460.2 143.9,460.4 142.9,460.6 141.9,460.9 140.9,461.1 139.9,461.3 138.9,461.5 137.9,461.7 136.9,461.9 135.9,462.2 134.9,462.4 133.9,462.6 132.9,462.9 131.9,463.1 130.9,463.4 129.9,463.6 128.9,463.9 127.9,464.2 126.9,464.4 125.9,464.7 124.9,465 123.9,465.3 122.9,465.6 121.9,465.9 120.9,466.3 119.9,466.6 118.9,466.9 117.9,467.2 116.9,467.6 115.9,467.9 114.9,468.2 113.9,468.6 112.9,468.9 111.9,469.2 110.9,469.6 109.9,469.9 108.9,470.2 107.9,470.6 106.9,470.9 105.9,471.2 104.9,471.5 103.9,471.9 102.9,472.2 101.9,472.5 100.9,472.8 99.9,473.1 98.9,473.4 97.9,473.7 96.9,473.9 95.9,474.2 94.9,474.4 93.9,474.7 92.9,474.9 91.9,475.2 90.9,475.5 89.9,475.7 88.9,476 87.9,476.3 86.9,476.6 85.9,476.9 84.9,477.2 83.9,477.5 82.9,477.9 81.9,478.3 80.9,478.7 79.9,479.1 78.9,479.7 77.9,480.3 76.9,480.9 75.9,481.6 74.9,482.4 73.9,483.1" fill="none" stroke="#0000ff" stroke-width="1.0" stroke-linejoin="round" marker-start="url(#mcb)" marker-mid="url(#mcb)" marker-end="url(#mcb)" />
<polyline points="73.9,499.4 74.9,493.5 75.9,487.1 76.9,480.4 77.9,473.1 78.9,465.7 79.9,458.3 80.9,450.9 81.9,445 82.9,440.4 83.9,436.4 84.9,432.9 85.9,429.6 86.9,426.5 87.9,423.5 88.9,420.6 89.9,417.9 90.9,415.3 91.9,412.9 92.9,410.5 93.9,408.2 94.9,406 95.9,403.9 96.9,401.8 97.9,399.9 98.9,397.9 99.9,396 100.9,394.1 101.9,392.2 102.9,390.3 103.9,388.4 104.9,386.6 105.9,384.8 106.9,383.2 107.9,381.6 108.9,380.2 109.9,378.9 110.9,377.6 111.9,376.3 112.9,375.2 113.9,374.2 114.9,373.3 115.9,372.4 116.9,371.7 117.9,370.9 118.9,370.2 119.9,369.5 120.9,368.9 121.9,368.3 122.9,367.7 123.9,367.1 124.9,366.5 125.9,366 126.9,365.5 127.9,365.1 128.9,364.6 129.9,364.2 130.9,363.7 131.9,363.3 132.9,363 133.9,362.6 134.9,362.2 135.9,361.8 136.9,361.5 137.9,361.1 138.9,360.8 139.9,360.5 140.9,360.2 141.9,359.9 142.9,359.6 143.9,359.3 144.9,359 145.9,358.7 146.9,358.5 147.9,358.3 148.9,358 149.9,357.8 150.9,357.6 151.9,357.4 152.9,357.2 153.9,357.1 154.9,356.9 155.9,356.7 156.9,356.5 157.9,356.4 158.9,356.2 159.9,356 160.9,355.9 161.9,355.7 162.9,355.6 163.9,355.5 164.9,355.3 165.9,355.2 166.9,355.1 167.9,355 168.9,354.9 169.9,354.9 170.9,354.8 171.9,354.7 172.9,354.7 173.9,354.6 174.9,354.6 175.9,354.5 176.9,354.5 177.9,354.5 178.9,354.4 179.9,354.4 180.9,354.4 181.9,354.3 182.9,354.3 183.9,354.3 184.9,354.3 185.9,354.2 186.9,354.2 187.9,354.2 188.9,354.2 189.9,354.2 190.9,354.2 191.9,354.2 192.9,354.3 193.9,354.4 194.9,354.5 195.9,354.6 196.9,354.7 197.9,354.9 198.9,355.1 199.9,355.3 200.9,355.5 201.9,355.7 202.9,355.9 203.9,356.1 204.9,356.4 205.9,356.6 206.9,356.9 207.9,357.1 208.9,357.4 209.9,357.7 210.9,357.9 211.9,358.2 212.9,358.5 213.9,358.7 214.9,359 215.9,359.2 216.9,359.5 217.9,359.8 218.9,360.2 219.9,360.5 220.9,360.9 221.9,361.2 222.9,361.6 223.9,362 224.9,362.4 225.9,362.8 226.9,363.2 227.9,363.7 228.9,364.1 229.9,364.5 230.9,364.9 231.9,365.4 232.9,365.8 233.9,366.2 234.9,366.6 235.9,367 236.9,367.4 237.9,367.8 238.9,368.1 239.9,368.5 240.9,368.8 241.9,369.1 242.9,369.5 243.9,369.8 244.9,370.2 245.9,370.5 246.9,370.8 247.9,371.1 248.9,371.4 249.9,371.7 250.9,371.9 251.9,372.2 252.9,372.4 253.9,372.6 254.9,372.8 255.9,373.1 256.9,373.3 257.9,373.5 258.9,373.6 259.9,373.8 260.9,374 261.9,374.1 262.9,374.2 263.9,374.3 264.9,374.4 265.9,374.4 266.9,374.5 267.9,374.5 268.9,374.6 269.9,374.6 270.9,374.7 271.9,374.7 272.9,374.7 273.9,374.8 274.9,374.8 275.9,374.8 276.9,374.8 277.9,374.8 278.9,374.8 279.9,374.8 280.9,374.7 281.9,374.7 282.9,374.7 283.9,374.6 284.9,374.6 285.9,374.5 286.9,374.4 287.9,374.4 288.9,374.3 289.9,374.2 290.9,374.1 291.9,374 292.9,374 293.9,373.8 294.9,373.7 295.9,373.6 296.9,373.5 297.9,373.4 298.9,373.2 299.9,373.1 300.9,372.9 301.9,372.8 302.9,372.6 301.9,378.6 300.9,384.4 299.9,390.2 298.9,395.5 297.9,400.1 296.9,404.4 295.9,408.3 294.9,411.8 293.9,414.7 292.9,416.9 291.9,418.7 290.9,420.3 289.9,421.7 288.9,422.9 287.9,424.1 286.9,425.3 285.9,426.5 284.9,427.7 283.9,428.9 282.9,430 281.9,431.1 280.9,432.1 279.9,433 278.9,433.9 277.9,434.6 276.9,435.1 275.9,435.6 274.9,436.1 273.9,436.6 272.9,437 271.9,437.4 270.9,437.8 269.9,438.2 268.9,438.5 267.9,438.8 266.9,439.1 265.9,439.4 264.9,439.7 263.9,439.9 262.9,440.2 261.9,440.4 260.9,440.6 259.9,440.8 258.9,441 257.9,441.2 256.9,441.3 255.9,441.5 254.9,441.7 253.9,441.8 252.9,441.9 251.9,442.1 250.9,442.2 249.9,442.3 248.9,442.4 247.9,442.5 246.9,442.6 245.9,442.8 244.9,442.9 243.9,443 242.9,443.1 241.9,443.2 240.9,443.3 239.9,443.4 238.9,443.5 237.9,443.6 236.9,443.7 235.9,443.8 234.9,443.9 233.9,444.1 232.9,444.2 231.9,444.3 230.9,444.5 229.9,444.6 228.9,444.8 227.9,444.9 226.9,445.1 225.9,445.2 224.9,445.4 223.9,445.6 222.9,445.7 221.9,445.9 220.9,446.1 219.9,446.2 218.9,446.4 217.9,446.6 216.9,446.8 215.9,447 214.9,447.2 213.9,447.5 212.9,447.7 211.9,447.9 210.9,448.2 209.9,448.4 208.9,448.7 207.9,449 206.9,449.4 205.9,449.7 204.9,450.1 203.9,450.5 202.9,451 201.9,451.4 200.9,451.9 199.9,452.3 198.9,452.8 197.9,453.3 196.9,453.8 195.9,454.3 194.9,454.7 193.9,455.2 192.9,455.7 191.9,456.1 190.9,456.5 189.9,456.9 188.9,457.3 187.9,457.7 186.9,458.2 185.9,458.6 184.9,459 183.9,459.4 182.9,459.8 181.9,460.2 180.9,460.6 179.9,461 178.9,461.4 177.9,461.8 176.9,462.2 175.9,462.6 174.9,463 173.9,463.4 172.9,463.8 171.9,464.2 170.9,464.6 169.9,464.9 168.9,465.3 167.9,465.7 166.9,466 165.9,466.4 164.9,466.7 163.9,467.1 162.9,467.4 161.9,467.7 160.9,468 159.9,468.3 158.9,468.6 157.9,468.9 156.9,469.2 155.9,469.5 154.9,469.7 153.9,470 152.9,470.2 151.9,470.5 150.9,470.7 149.9,471 148.9,471.2 147.9,471.4 146.9,471.7 145.9,471.9 144.9,472.1 143.9,472.3 142.9,472.6 141.9,472.8 140.9,473 139.9,473.3 138.9,473.5 137.9,473.8 136.9,474 135.9,474.3 134.9,474.5 133.9,474.8 132.9,475.1 131.9,475.3 130.9,475.6 129.9,475.9 128.9,476.2 127.9,476.6 126.9,476.9 125.9,477.2 124.9,477.6 123.9,477.9 122.9,478.3 121.9,478.7 120.9,479 119.9,479.4 118.9,479.8 117.9,480.2 116.9,480.6 115.9,481 114.9,481.4 113.9,481.8 112.9,482.2 111.9,482.6 110.9,483 109.9,483.5 108.9,483.9 107.9,484.3 106.9,484.7 105.9,485.1 104.9,485.5 103.9,485.9 102.9,486.3 101.9,486.7 100.9,487.1 99.9,487.5 98.9,487.9 97.9,488.2 96.9,488.6 95.9,489 94.9,489.3 93.9,489.7 92.9,490.1 91.9,490.4 90.9,490.8 89.9,491.2 88.9,491.6 87.9,492 86.9,492.4 85.9,492.8 84.9,493.2 83.9,493.6 82.9,494.1 81.9,494.6 80.9,495 79.9,495.6 78.9,496.1 77.9,496.7 76.9,497.4 75.9,498 74.9,498.7 73.9,499.4" fill="none" stroke="#008080" stroke-width="1.0" stroke-linejoin="round" marker-start="url(#mct)" marker-mid="url(#mct)" marker-end="url(#mct)" />
<line x1="113.1" y1="501.1" x2="133.7" y2="501.1" stroke="#000000" stroke-width="1.2" opacity="0.75"/>
<use href="#lgks" x="123.4" y="501.1"/>
<text x="137.4" y="503.4" font-family="Liberation Sans, sans-serif" font-size="15.3">500 mV/s</text>
<line x1="206" y1="501.1" x2="226.6" y2="501.1" stroke="#ff0000" stroke-width="1.2" opacity="0.75"/>
<use href="#lgrs" x="216.3" y="501.1"/>
<text x="230.7" y="503.4" font-family="Liberation Sans, sans-serif" font-size="15.3">1000 mV/s</text>
<line x1="113.1" y1="522.0" x2="133.7" y2="522.0" stroke="#0000ff" stroke-width="1.2" opacity="0.75"/>
<use href="#lgbs" x="123.4" y="522.0"/>
<text x="137.4" y="524.3" font-family="Liberation Sans, sans-serif" font-size="15.3">1500 mV/s</text>
<line x1="214" y1="522.0" x2="234.6" y2="522.0" stroke="#008080" stroke-width="1.2" opacity="0.75"/>
<use href="#lgts" x="224.3" y="522.0"/>
<text x="238.7" y="524.3" font-family="Liberation Sans, sans-serif" font-size="15.3">2000 mV/s</text>
<text x="370.4" y="329.1" font-family="Liberation Serif, serif" font-size="32.5">(d)</text>
<rect x="418.8" y="326.6" width="263.7" height="213.29999999999995" fill="none" stroke="#000" stroke-width="1.8"/>
<line x1="424.2" y1="539.9" x2="424.2" y2="544.5" stroke="#000" stroke-width="1.5"/>
<text x="424.2" y="560.6" font-family="Liberation Sans, sans-serif" font-size="16.2" text-anchor="middle">0</text>
<line x1="513.6" y1="539.9" x2="513.6" y2="544.5" stroke="#000" stroke-width="1.5"/>
<text x="513.6" y="560.6" font-family="Liberation Sans, sans-serif" font-size="16.2" text-anchor="middle">20</text>
<line x1="603.1" y1="539.9" x2="603.1" y2="544.5" stroke="#000" stroke-width="1.5"/>
<text x="603.1" y="560.6" font-family="Liberation Sans, sans-serif" font-size="16.2" text-anchor="middle">40</text>
<line x1="414.2" y1="342.8" x2="418.8" y2="342.8" stroke="#000" stroke-width="1.5"/>
<text x="408.5" y="347.4" font-family="Liberation Sans, sans-serif" font-size="16.2" text-anchor="end">0.8</text>
<line x1="414.2" y1="441.5" x2="418.8" y2="441.5" stroke="#000" stroke-width="1.5"/>
<text x="408.5" y="446.1" font-family="Liberation Sans, sans-serif" font-size="16.2" text-anchor="end">0.0</text>
<line x1="414.2" y1="540.2" x2="418.8" y2="540.2" stroke="#000" stroke-width="1.5"/>
<text x="408.5" y="544.8" font-family="Liberation Sans, sans-serif" font-size="16.2" text-anchor="end">-0.8</text>
<text transform="translate(375.9,435.5) rotate(-90)" font-family="Liberation Serif, serif" font-size="20" text-anchor="middle" >E (V vs. Ag/AgCl)</text>
<text x="550.5" y="585.5" font-family="Liberation Serif, serif" font-size="20" text-anchor="middle" >Time (s)</text>
<path d="M424.5,539.5 L425.2,537.0 L425.8,534.5 L426.5,531.9 L427.2,529.2 L427.9,526.3 L428.5,523.5 L429.2,521.4 L429.9,519.4 L430.6,517.6 L431.2,515.8 L431.9,514.2 L432.6,512.6 L433.2,511.1 L433.9,509.6 L434.6,508.2 L435.3,506.9 L435.9,505.5 L436.6,504.2 L437.3,503.0 L438.0,501.7 L438.6,500.5 L439.3,499.2 L440.0,497.9 L440.6,496.6 L441.3,495.3 L442.0,493.9 L442.7,492.5 L443.3,491.2 L444.0,489.8 L444.7,488.4 L445.4,487.1 L446.0,485.7 L446.7,484.4 L447.4,483.0 L448.0,481.7 L448.7,480.4 L449.4,479.0 L450.1,477.7 L450.7,476.4 L451.4,475.1 L452.1,473.7 L452.7,472.4 L453.4,471.1 L454.1,469.8 L454.8,468.4 L455.4,467.1 L456.1,465.8 L456.8,464.4 L457.5,463.1 L458.1,461.8 L458.8,460.4 L459.5,459.1 L460.1,457.8 L460.8,456.5 L461.5,455.2 L462.2,453.8 L462.8,452.5 L463.5,451.1 L464.2,449.7 L464.9,448.3 L465.5,446.9 L466.2,445.4 L466.9,444.0 L467.5,442.6 L468.2,441.1 L468.9,439.6 L469.6,438.1 L470.2,436.6 L470.9,435.1 L471.6,433.5 L472.3,432.0 L472.9,430.4 L473.6,428.8 L474.3,427.1 L474.9,425.4 L475.6,423.7 L476.3,421.8 L477.0,420.0 L477.6,418.0 L478.3,416.1 L479.0,414.2 L479.7,412.2 L480.3,410.3 L481.0,408.4 L481.7,406.5 L482.3,404.7 L483.0,402.9 L483.7,401.2 L484.4,399.5 L485.0,397.9 L485.7,396.3 L486.4,394.7 L487.1,393.2 L487.7,391.6 L488.4,390.1 L489.1,388.6 L489.7,387.1 L490.4,385.6 L491.1,384.2 L491.8,382.8 L492.4,381.4 L493.1,380.0 L493.8,378.6 L494.5,377.3 L495.1,375.9 L495.8,374.6 L496.5,373.3 L497.1,372.0 L497.8,370.7 L498.5,369.4 L499.2,368.1 L499.8,366.8 L500.5,365.6 L501.2,364.4 L501.8,363.2 L502.5,362.1 L503.2,361.0 L503.9,360.0 L504.5,359.1 L505.2,358.2 L505.9,357.4 L506.6,356.6 L507.2,355.9 L507.9,355.1 L508.6,354.4 L509.2,353.8 L509.9,353.1 L510.6,352.5 L511.3,351.9 L511.9,351.3 L512.6,350.7 L513.3,350.1 L514.0,349.5 L514.6,349.0 L515.3,348.5 L516.0,347.9 L516.6,347.4 L517.3,346.9 L518.0,346.4 L518.7,345.9 L519.3,345.5 L520.0,345.0 L520.7,344.6 L521.4,344.2 L522.0,343.8 L522.7,343.4 L522.7,343.4 L523.4,347.3 L524.1,351.4 L524.7,355.6 L525.4,359.9 L526.1,364.6 L526.8,369.2 L527.4,373.2 L528.1,376.7 L528.8,380.0 L529.5,383.2 L530.1,386.4 L530.8,389.4 L531.5,392.4 L532.2,395.4 L532.8,398.4 L533.5,401.6 L534.2,404.7 L534.9,407.6 L535.5,410.4 L536.2,413.0 L536.9,415.6 L537.6,418.0 L538.3,420.3 L538.9,422.4 L539.6,424.4 L540.3,426.3 L541.0,428.1 L541.6,429.8 L542.3,431.5 L543.0,433.1 L543.7,434.7 L544.3,436.2 L545.0,437.7 L545.7,439.2 L546.4,440.6 L547.0,442.1 L547.7,443.5 L548.4,444.9 L549.1,446.3 L549.7,447.6 L550.4,449.0 L551.1,450.3 L551.8,451.6 L552.4,452.9 L553.1,454.2 L553.8,455.5 L554.5,456.9 L555.2,458.2 L555.8,459.5 L556.5,460.8 L557.2,462.1 L557.9,463.4 L558.5,464.7 L559.2,466.0 L559.9,467.2 L560.6,468.4 L561.2,469.6 L561.9,470.8 L562.6,471.9 L563.3,473.0 L563.9,474.1 L564.6,475.2 L565.3,476.2 L566.0,477.3 L566.6,478.3 L567.3,479.3 L568.0,480.3 L568.7,481.3 L569.4,482.3 L570.0,483.2 L570.7,484.2 L571.4,485.1 L572.1,486.1 L572.7,487.0 L573.4,488.0 L574.1,488.9 L574.8,489.8 L575.4,490.7 L576.1,491.6 L576.8,492.5 L577.5,493.5 L578.1,494.4 L578.8,495.3 L579.5,496.2 L580.2,497.1 L580.8,498.0 L581.5,498.9 L582.2,499.8 L582.9,500.7 L583.6,501.6 L584.2,502.5 L584.9,503.3 L585.6,504.2 L586.3,505.1 L586.9,506.0 L587.6,506.8 L588.3,507.7 L589.0,508.5 L589.6,509.4 L590.3,510.2 L591.0,511.1 L591.7,511.9 L592.3,512.8 L593.0,513.6 L593.7,514.5 L594.4,515.3 L595.0,516.2 L595.7,517.0 L596.4,517.9 L597.1,518.7 L597.7,519.6 L598.4,520.4 L599.1,521.3 L599.8,522.1 L600.5,523.0 L601.1,523.8 L601.8,524.7 L602.5,525.5 L603.2,526.4 L603.8,527.2 L604.5,528.0 L605.2,528.9 L605.9,529.7 L606.5,530.5 L607.2,531.4 L607.9,532.2 L608.6,533.0 L609.2,533.9 L609.9,534.7 L610.6,535.5 L611.3,536.3 L611.9,537.2 L612.6,538.0 L613.3,538.8" fill="none" stroke="#000000" stroke-width="2.6" stroke-linejoin="round"/>
<path d="M425.5,539.5 L426.2,536.9 L426.9,534.2 L427.5,531.5 L428.2,528.6 L428.9,525.6 L429.6,522.5 L430.2,519.3 L430.9,516.1 L431.6,513.0 L432.3,509.8 L432.9,506.8 L433.6,503.8 L434.3,501.0 L435.0,498.3 L435.7,495.8 L436.3,493.4 L437.0,491.2 L437.7,489.0 L438.4,486.8 L439.0,484.7 L439.7,482.5 L440.4,480.2 L441.1,477.8 L441.7,475.3 L442.4,472.7 L443.1,470.0 L443.8,467.2 L444.4,464.4 L445.1,461.6 L445.8,458.6 L446.5,455.7 L447.2,452.7 L447.8,449.7 L448.5,446.7 L449.2,443.7 L449.9,440.8 L450.5,437.8 L451.2,434.8 L451.9,431.8 L452.6,428.8 L453.2,425.8 L453.9,422.7 L454.6,419.6 L455.3,416.6 L456.0,413.5 L456.6,410.4 L457.3,407.4 L458.0,404.3 L458.7,401.3 L459.3,398.4 L460.0,395.5 L460.7,392.6 L461.4,389.8 L462.0,387.0 L462.7,384.2 L463.4,381.5 L464.1,378.7 L464.7,376.0 L465.4,373.2 L466.1,370.4 L466.8,367.4 L467.5,364.6 L468.1,361.8 L468.8,359.2 L469.5,356.9 L470.2,354.8 L470.8,352.9 L471.5,351.0 L472.2,349.2 L472.9,347.6 L473.5,346.1 L474.2,344.8 L474.9,343.6 L474.9,343.6 L475.6,349.1 L476.3,354.9 L476.9,360.9 L477.6,367.1 L478.3,373.7 L479.0,380.5 L479.6,387.2 L480.3,394.2 L481.0,401.3 L481.7,407.7 L482.4,413.1 L483.0,417.7 L483.7,422.0 L484.4,425.9 L485.1,429.5 L485.7,433.0 L486.4,436.2 L487.1,439.2 L487.8,442.2 L488.5,445.1 L489.1,448.0 L489.8,450.8 L490.5,453.6 L491.2,456.3 L491.8,459.0 L492.5,461.6 L493.2,464.1 L493.9,466.6 L494.6,469.1 L495.2,471.5 L495.9,473.8 L496.6,476.2 L497.3,478.5 L497.9,480.7 L498.6,482.9 L499.3,485.0 L500.0,487.1 L500.6,489.1 L501.3,491.1 L502.0,492.9 L502.7,494.7 L503.4,496.5 L504.0,498.3 L504.7,500.0 L505.4,501.7 L506.1,503.4 L506.7,505.2 L507.4,507.0 L508.1,508.8 L508.8,510.6 L509.5,512.5 L510.1,514.3 L510.8,516.2 L511.5,518.0 L512.2,519.8 L512.8,521.6 L513.5,523.4 L514.2,525.1 L514.9,526.7 L515.6,528.3 L516.2,529.9 L516.9,531.5 L517.6,533.0 L518.3,534.5 L518.9,536.0 L519.6,537.4 L520.3,538.8" fill="none" stroke="#ff0000" stroke-width="3.3" stroke-linejoin="round"/>
<path d="M425.5,539.5 L426.2,538.5 L426.9,535.8 L427.6,530.8 L428.3,524.1 L429.0,516.1 L429.7,507.2 L430.4,497.9 L431.1,488.6 L431.8,479.7 L432.5,471.5 L433.2,462.7 L433.9,453.5 L434.6,444.2 L435.3,435.1 L436.0,426.4 L436.7,418.5 L437.4,411.3 L438.1,404.4 L438.8,397.9 L439.5,391.7 L440.2,385.7 L440.9,379.9 L441.6,374.2 L442.3,368.6 L443.0,363.2 L443.7,357.9 L444.4,352.8 L445.1,347.9 L445.8,343.2 L445.8,343.2 L446.5,352.2 L447.2,361.1 L447.9,369.9 L448.7,378.7 L449.4,387.3 L450.1,395.9 L450.8,404.5 L451.5,413.0 L452.2,421.7 L452.9,430.3 L453.7,438.8 L454.4,446.9 L455.1,454.6 L455.8,461.7 L456.5,468.2 L457.2,474.3 L458.0,480.1 L458.7,485.8 L459.4,491.4 L460.1,497.2 L460.8,503.1 L461.5,509.1 L462.2,515.0 L463.0,521.0 L463.7,526.9 L464.4,532.9 L465.1,538.8" fill="none" stroke="#0000ff" stroke-width="3.3" stroke-linejoin="round"/>
<path d="M427.2,538.8 L432.2,344.0 L432.2,344.0 L433.2,344.0 L433.2,344.0 L438.2,538.8" fill="none" stroke="#008080" stroke-width="3.3" stroke-linejoin="round"/>
<path d="M424.7,538.8 L427.4,344.0 L427.4,344.0 L428.4,344.0 L428.4,344.0 L431.0,538.8" fill="none" stroke="#ff00ff" stroke-width="3.3" stroke-linejoin="round"/>
<line x1="549.5" y1="343.1" x2="571.8" y2="343.1" stroke="#000000" stroke-width="1.2" opacity="0.75"/>
<use href="#lgks" x="560.6" y="343.1"/>
<text x="575.4" y="346.1" font-family="Liberation Sans, sans-serif" font-size="15.8">0.78 mA/cm<tspan font-size="0.6em" dx="1.6" dy="-0.6em">2</tspan></text>
<line x1="549.5" y1="362.85" x2="571.8" y2="362.85" stroke="#ff0000" stroke-width="1.2" opacity="0.75"/>
<use href="#lgrs" x="560.6" y="362.85"/>
<text x="575.4" y="365.9" font-family="Liberation Sans, sans-serif" font-size="15.8">1.32 mA/cm<tspan font-size="0.6em" dx="1.6" dy="-0.6em">2</tspan></text>
<line x1="549.5" y1="382.6" x2="571.8" y2="382.6" stroke="#0000ff" stroke-width="1.2" opacity="0.75"/>
<use href="#lgbs" x="560.6" y="382.6"/>
<text x="575.4" y="385.6" font-family="Liberation Sans, sans-serif" font-size="15.8">2.64 mA/cm<tspan font-size="0.6em" dx="1.6" dy="-0.6em">2</tspan></text>
<line x1="549.5" y1="402.35" x2="571.8" y2="402.35" stroke="#008080" stroke-width="1.2" opacity="0.75"/>
<use href="#lgts" x="560.6" y="402.35"/>
<text x="575.4" y="405.4" font-family="Liberation Sans, sans-serif" font-size="15.8">7.80 mA/cm<tspan font-size="0.6em" dx="1.6" dy="-0.6em">2</tspan></text>
<line x1="549.5" y1="422.1" x2="571.8" y2="422.1" stroke="#ff00ff" stroke-width="1.2" opacity="0.75"/>
<use href="#lgms" x="560.6" y="422.1"/>
<text x="575.4" y="425.1" font-family="Liberation Sans, sans-serif" font-size="15.8">13.20 mA/cm<tspan font-size="0.6em" dx="1.6" dy="-0.6em">2</tspan></text>
<text x="8.5" y="632.9" font-family="Liberation Serif, serif" font-size="32.5">(e)</text>
<rect x="55" y="626.5" width="265.3" height="216.20000000000005" fill="none" stroke="#000" stroke-width="1.8"/>
<line x1="70.2" y1="842.7" x2="70.2" y2="847.3000000000001" stroke="#000" stroke-width="1.5"/>
<text x="70.2" y="863.6" font-family="Liberation Sans, sans-serif" font-size="16.2" text-anchor="middle">0</text>
<line x1="128.8" y1="842.7" x2="128.8" y2="847.3000000000001" stroke="#000" stroke-width="1.5"/>
<text x="128.8" y="863.6" font-family="Liberation Sans, sans-serif" font-size="16.2" text-anchor="middle">500</text>
<line x1="187.4" y1="842.7" x2="187.4" y2="847.3000000000001" stroke="#000" stroke-width="1.5"/>
<text x="187.4" y="863.6" font-family="Liberation Sans, sans-serif" font-size="16.2" text-anchor="middle">1000</text>
<line x1="245.9" y1="842.7" x2="245.9" y2="847.3000000000001" stroke="#000" stroke-width="1.5"/>
<text x="245.9" y="863.6" font-family="Liberation Sans, sans-serif" font-size="16.2" text-anchor="middle">1500</text>
<line x1="304.5" y1="842.7" x2="304.5" y2="847.3000000000001" stroke="#000" stroke-width="1.5"/>
<text x="304.5" y="863.6" font-family="Liberation Sans, sans-serif" font-size="16.2" text-anchor="middle">2000</text>
<line x1="50.4" y1="697.4" x2="55" y2="697.4" stroke="#000" stroke-width="1.5"/>
<text x="47.6" y="702.0" font-family="Liberation Sans, sans-serif" font-size="16.2" text-anchor="end">20</text>
<line x1="50.4" y1="770.1" x2="55" y2="770.1" stroke="#000" stroke-width="1.5"/>
<text x="47.6" y="774.7" font-family="Liberation Sans, sans-serif" font-size="16.2" text-anchor="end">10</text>
<line x1="50.4" y1="842.7" x2="55" y2="842.7" stroke="#000" stroke-width="1.5"/>
<text x="47.6" y="847.3" font-family="Liberation Sans, sans-serif" font-size="16.2" text-anchor="end">0</text>
<text transform="translate(17.6,736.8) rotate(-90)" font-family="Liberation Serif, serif" font-size="19.4" text-anchor="middle" >C<tspan font-size="0.7em" dy="0.25em">A</tspan><tspan dy="-0.25em"> (mF/cm</tspan><tspan font-size="0.62em" dy="-0.55em">2</tspan><tspan dy="0.34em">)</tspan></text>
<text x="187.1" y="888.5" font-family="Liberation Serif, serif" font-size="20" text-anchor="middle" >Scan rate (mV/s)</text>
<line x1="72.5" y1="731.5" x2="75.4" y2="760.5" stroke="#800000" stroke-width="1.9"/>
<line x1="87.1" y1="773.1" x2="89.3" y2="774.5" stroke="#800000" stroke-width="1.9"/>
<line x1="99.1" y1="779.7" x2="100.7" y2="780.4" stroke="#800000" stroke-width="1.9"/>
<line x1="111.2" y1="784.0" x2="124.0" y2="787.3" stroke="#800000" stroke-width="1.9"/>
<line x1="135.0" y1="789.4" x2="182.6" y2="795.7" stroke="#800000" stroke-width="1.9"/>
<line x1="193.8" y1="796.8" x2="241.2" y2="800.3" stroke="#800000" stroke-width="1.9"/>
<line x1="252.4" y1="801.0" x2="299.6" y2="803.6" stroke="#800000" stroke-width="1.9"/>
<circle cx="71.9" cy="725.9" r="4.6" fill="url(#gr)"/>
<circle cx="76" cy="766.1" r="4.6" fill="url(#gr)"/>
<circle cx="82.4" cy="770.1" r="4.6" fill="url(#gr)"/>
<circle cx="94" cy="777.5" r="4.6" fill="url(#gr)"/>
<circle cx="105.8" cy="782.6" r="4.6" fill="url(#gr)"/>
<circle cx="129.4" cy="788.7" r="4.6" fill="url(#gr)"/>
<circle cx="188.2" cy="796.4" r="4.6" fill="url(#gr)"/>
<circle cx="246.8" cy="800.7" r="4.6" fill="url(#gr)"/>
<circle cx="305.2" cy="803.9" r="4.6" fill="url(#gr)"/>
<rect x="150.4" y="633.4" width="161.1" height="119.2" fill="#fff" stroke="none"/>
<rect x="150.1" y="633.4" width="161.4" height="119.20000000000005" fill="none" stroke="#000" stroke-width="1.8"/>
<line x1="152.7" y1="752.6" x2="152.7" y2="756.1" stroke="#000" stroke-width="1.5"/>
<text x="152.7" y="772.5" font-family="Liberation Sans, sans-serif" font-size="15.5" text-anchor="middle">0</text>
<line x1="218.7" y1="752.6" x2="218.7" y2="756.1" stroke="#000" stroke-width="1.5"/>
<text x="218.7" y="772.5" font-family="Liberation Sans, sans-serif" font-size="15.5" text-anchor="middle">6</text>
<line x1="284.7" y1="752.6" x2="284.7" y2="756.1" stroke="#000" stroke-width="1.5"/>
<text x="284.7" y="772.5" font-family="Liberation Sans, sans-serif" font-size="15.5" text-anchor="middle">12</text>
<line x1="146.6" y1="655.6" x2="150.1" y2="655.6" stroke="#000" stroke-width="1.5"/>
<text x="142.6" y="660.0" font-family="Liberation Sans, sans-serif" font-size="15.5" text-anchor="end">8</text>
<line x1="146.6" y1="704.3" x2="150.1" y2="704.3" stroke="#000" stroke-width="1.5"/>
<text x="142.6" y="708.7" font-family="Liberation Sans, sans-serif" font-size="15.5" text-anchor="end">4</text>
<line x1="192.2" y1="686.0" x2="229.3" y2="689.3" stroke="#008000" stroke-width="1.4"/>
<line x1="248.2" y1="691.2" x2="288.7" y2="696.0" stroke="#008000" stroke-width="1.4"/>
<path d="M161.9,658.6 L164.0,664.0 L169.7,664.3 L165.2,667.9 L166.7,673.4 L161.9,670.3 L157.1,673.4 L158.6,667.9 L154.1,664.3 L159.8,664.0Z" fill="#008000"/>
<path d="M167.8,667.8 L169.9,673.2 L175.6,673.5 L171.1,677.1 L172.6,682.6 L167.8,679.5 L163.0,682.6 L164.5,677.1 L160.0,673.5 L165.7,673.2Z" fill="#008000"/>
<path d="M182.7,677.0 L184.8,682.4 L190.5,682.7 L186.0,686.3 L187.5,691.8 L182.7,688.7 L177.9,691.8 L179.4,686.3 L174.9,682.7 L180.6,682.4Z" fill="#008000"/>
<path d="M238.8,681.9 L240.9,687.3 L246.6,687.6 L242.1,691.2 L243.6,696.7 L238.8,693.6 L234.0,696.7 L235.5,691.2 L231.0,687.6 L236.7,687.3Z" fill="#008000"/>
<path d="M298.1,688.9 L300.2,694.3 L305.9,694.6 L301.4,698.2 L302.9,703.7 L298.1,700.6 L293.3,703.7 L294.8,698.2 L290.3,694.6 L296.0,694.3Z" fill="#008000"/>
<text transform="translate(127.4,694) rotate(-90)" font-family="Liberation Serif, serif" font-size="15.3" stroke="#000" stroke-width="0.4" text-anchor="middle">C<tspan font-size="0.7em" dy="0.25em">A</tspan><tspan dy="-0.25em"> (mF/cm</tspan><tspan font-size="0.62em" dy="-0.55em">2</tspan><tspan dy="0.34em">)</tspan></text>
<text x="231.5" y="785.8" font-family="Liberation Serif, serif" font-size="15.2" stroke="#000" stroke-width="0.4" text-anchor="middle">J (mA/cm<tspan font-size="0.62em" dy="-0.55em">2</tspan><tspan dy="0.34em">)</tspan></text>
<text x="372.3" y="629.8" font-family="Liberation Serif, serif" font-size="32.5">(f)</text>
<rect x="419.3" y="626.6" width="263.7" height="213.60000000000002" fill="none" stroke="#000" stroke-width="1.8"/>
<line x1="418.8" y1="840.2" x2="418.8" y2="844.8000000000001" stroke="#000" stroke-width="1.5"/>
<text x="418.8" y="860.9" font-family="Liberation Sans, sans-serif" font-size="16.2" text-anchor="middle">0</text>
<line x1="495.6" y1="840.2" x2="495.6" y2="844.8000000000001" stroke="#000" stroke-width="1.5"/>
<text x="495.6" y="860.9" font-family="Liberation Sans, sans-serif" font-size="16.2" text-anchor="middle">1000</text>
<line x1="572.3" y1="840.2" x2="572.3" y2="844.8000000000001" stroke="#000" stroke-width="1.5"/>
<text x="572.3" y="860.9" font-family="Liberation Sans, sans-serif" font-size="16.2" text-anchor="middle">2000</text>
<line x1="649.1" y1="840.2" x2="649.1" y2="844.8000000000001" stroke="#000" stroke-width="1.5"/>
<text x="649.1" y="860.9" font-family="Liberation Sans, sans-serif" font-size="16.2" text-anchor="middle">3000</text>
<line x1="414.7" y1="654.6" x2="419.3" y2="654.6" stroke="#000" stroke-width="1.5"/>
<text x="409.6" y="659.2" font-family="Liberation Sans, sans-serif" font-size="16.2" text-anchor="end">3000</text>
<line x1="414.7" y1="716.5" x2="419.3" y2="716.5" stroke="#000" stroke-width="1.5"/>
<text x="409.6" y="721.1" font-family="Liberation Sans, sans-serif" font-size="16.2" text-anchor="end">2000</text>
<line x1="414.7" y1="778.3" x2="419.3" y2="778.3" stroke="#000" stroke-width="1.5"/>
<text x="409.6" y="782.9" font-family="Liberation Sans, sans-serif" font-size="16.2" text-anchor="end">1000</text>
<line x1="414.7" y1="840.2" x2="419.3" y2="840.2" stroke="#000" stroke-width="1.5"/>
<text x="409.6" y="844.8" font-family="Liberation Sans, sans-serif" font-size="16.2" text-anchor="end">0</text>
<text transform="translate(362.2,733.5) rotate(-90)" font-family="Liberation Serif, serif" font-size="20" text-anchor="middle" >-Z’’ (Ohm)</text>
<text x="548.6" y="884.2" font-family="Liberation Serif, serif" font-size="20" text-anchor="middle" >Z’ (Ohm)</text>
<svg x="420.2" y="627.5" width="262" height="211.8" overflow="hidden"><g transform="translate(-420.2,-627.5)">
<polyline points="488,633.9 478,655.3 471.7,672.4 466.6,689.3 460.3,705.6 455.3,719.7 451.5,732.6 447.7,743.4 445.2,753 442.7,762.4 440.2,770.5 438.3,777.6 436.9,783.8 435.5,790 434,795.2 432.6,800 431.7,804.8 430.7,808.6 429.8,812.4 428.8,817.1" fill="none" stroke="#008000" stroke-width="1.5" stroke-dasharray="4 2"/>
<circle cx="427.5" cy="837.5" r="4.2" fill="url(#gg)"/>
<circle cx="425.5" cy="837.0" r="4.2" fill="url(#gg)"/>
<circle cx="423.5" cy="836.5" r="4.2" fill="url(#gg)"/>
<circle cx="421.5" cy="837.5" r="4.2" fill="url(#gg)"/>
<circle cx="426.0" cy="837.0" r="4.2" fill="url(#gg)"/>
<circle cx="426.1" cy="836.1" r="4.2" fill="url(#gg)"/>
<circle cx="426.2" cy="835.1" r="4.2" fill="url(#gg)"/>
<circle cx="426.4" cy="834.2" r="4.2" fill="url(#gg)"/>
<circle cx="426.5" cy="833.2" r="4.2" fill="url(#gg)"/>
<circle cx="426.6" cy="832.3" r="4.2" fill="url(#gg)"/>
<circle cx="426.7" cy="831.3" r="4.2" fill="url(#gg)"/>
<circle cx="426.8" cy="830.4" r="4.2" fill="url(#gg)"/>
<circle cx="427.0" cy="829.4" r="4.2" fill="url(#gg)"/>
<circle cx="427.1" cy="828.5" r="4.2" fill="url(#gg)"/>
<circle cx="427.2" cy="827.5" r="4.2" fill="url(#gg)"/>
<circle cx="427.3" cy="826.6" r="4.2" fill="url(#gg)"/>
<circle cx="427.5" cy="825.6" r="4.2" fill="url(#gg)"/>
<circle cx="427.6" cy="824.7" r="4.2" fill="url(#gg)"/>
<circle cx="427.7" cy="823.7" r="4.2" fill="url(#gg)"/>
<circle cx="427.8" cy="822.8" r="4.2" fill="url(#gg)"/>
<circle cx="427.9" cy="821.8" r="4.2" fill="url(#gg)"/>
<circle cx="428.1" cy="820.9" r="4.2" fill="url(#gg)"/>
<circle cx="428.2" cy="819.9" r="4.2" fill="url(#gg)"/>
<circle cx="428.3" cy="819.0" r="4.2" fill="url(#gg)"/>
<circle cx="428.8" cy="817.1" r="4.2" fill="url(#gg)"/>
<circle cx="429.8" cy="812.4" r="4.2" fill="url(#gg)"/>
<circle cx="430.7" cy="808.6" r="4.2" fill="url(#gg)"/>
<circle cx="431.7" cy="804.8" r="4.2" fill="url(#gg)"/>
<circle cx="432.6" cy="800.0" r="4.2" fill="url(#gg)"/>
<circle cx="434.0" cy="795.2" r="4.2" fill="url(#gg)"/>
<circle cx="435.5" cy="790.0" r="4.2" fill="url(#gg)"/>
<circle cx="436.9" cy="783.8" r="4.2" fill="url(#gg)"/>
<circle cx="438.3" cy="777.6" r="4.2" fill="url(#gg)"/>
<circle cx="440.2" cy="770.5" r="4.2" fill="url(#gg)"/>
<circle cx="442.7" cy="762.4" r="4.2" fill="url(#gg)"/>
<circle cx="445.2" cy="753.0" r="4.2" fill="url(#gg)"/>
<circle cx="447.7" cy="743.4" r="4.2" fill="url(#gg)"/>
<circle cx="451.5" cy="732.6" r="4.2" fill="url(#gg)"/>
<circle cx="455.3" cy="719.7" r="4.2" fill="url(#gg)"/>
<circle cx="460.3" cy="705.6" r="4.2" fill="url(#gg)"/>
<circle cx="466.6" cy="689.3" r="4.2" fill="url(#gg)"/>
<circle cx="471.7" cy="672.4" r="4.2" fill="url(#gg)"/>
<circle cx="478.0" cy="655.3" r="4.2" fill="url(#gg)"/>
<circle cx="488.0" cy="633.9" r="4.2" fill="url(#gg)"/>
</g></svg>
<rect x="545.6" y="660.5" width="122" height="130" fill="#fff"/>
<line x1="595" y1="790.5" x2="604" y2="738" stroke="#008000" stroke-width="1" stroke-dasharray="1.5 1.5"/>
<svg x="545.6" y="660.5" width="122" height="130" overflow="hidden"><g transform="translate(-545.6,-660.5)">
<circle cx="619.4" cy="660.6" r="3.4" fill="url(#gg)"/>
<circle cx="616.8" cy="672.4" r="3.4" fill="url(#gg)"/>
<circle cx="615.6" cy="684.3" r="3.4" fill="url(#gg)"/>
<circle cx="614.2" cy="694.1" r="3.4" fill="url(#gg)"/>
<circle cx="612.2" cy="703.4" r="3.4" fill="url(#gg)"/>
<circle cx="611.1" cy="711.6" r="3.4" fill="url(#gg)"/>
<circle cx="609.6" cy="717.8" r="3.4" fill="url(#gg)"/>
<circle cx="608.0" cy="724.0" r="3.4" fill="url(#gg)"/>
<circle cx="606.5" cy="729.1" r="3.4" fill="url(#gg)"/>
<circle cx="604.8" cy="734.8" r="3.1" fill="url(#gg)"/>
<circle cx="604.2" cy="736.3" r="3.1" fill="url(#gg)"/>
<circle cx="603.6" cy="737.9" r="3.1" fill="url(#gg)"/>
<circle cx="602.9" cy="739.5" r="3.1" fill="url(#gg)"/>
<circle cx="602.0" cy="740.9" r="3.1" fill="url(#gg)"/>
<circle cx="601.1" cy="742.4" r="3.1" fill="url(#gg)"/>
<circle cx="600.2" cy="743.8" r="3.1" fill="url(#gg)"/>
<circle cx="599.2" cy="745.2" r="3.1" fill="url(#gg)"/>
<circle cx="598.2" cy="746.5" r="3.1" fill="url(#gg)"/>
<circle cx="597.1" cy="747.8" r="3.1" fill="url(#gg)"/>
<circle cx="595.9" cy="749.1" r="3.1" fill="url(#gg)"/>
<circle cx="594.6" cy="750.2" r="3.1" fill="url(#gg)"/>
<circle cx="593.4" cy="751.4" r="3.1" fill="url(#gg)"/>
<circle cx="592.2" cy="752.5" r="3.1" fill="url(#gg)"/>
<circle cx="590.9" cy="753.7" r="3.1" fill="url(#gg)"/>
<circle cx="589.7" cy="754.8" r="3.1" fill="url(#gg)"/>
<circle cx="588.4" cy="756.0" r="3.1" fill="url(#gg)"/>
<circle cx="587.1" cy="757.1" r="3.1" fill="url(#gg)"/>
<circle cx="585.8" cy="758.2" r="3.1" fill="url(#gg)"/>
<circle cx="584.5" cy="759.3" r="3.1" fill="url(#gg)"/>
<circle cx="583.2" cy="760.4" r="3.1" fill="url(#gg)"/>
<circle cx="582.0" cy="761.5" r="3.1" fill="url(#gg)"/>
<circle cx="580.7" cy="762.6" r="3.1" fill="url(#gg)"/>
<circle cx="579.4" cy="763.8" r="3.1" fill="url(#gg)"/>
<circle cx="578.2" cy="764.9" r="3.1" fill="url(#gg)"/>
<circle cx="577.0" cy="766.1" r="3.1" fill="url(#gg)"/>
<circle cx="575.8" cy="767.3" r="3.1" fill="url(#gg)"/>
<circle cx="574.6" cy="768.6" r="3.1" fill="url(#gg)"/>
<circle cx="573.5" cy="769.9" r="3.1" fill="url(#gg)"/>
<circle cx="572.3" cy="771.1" r="3.1" fill="url(#gg)"/>
<circle cx="571.2" cy="772.4" r="3.1" fill="url(#gg)"/>
<circle cx="570.0" cy="773.6" r="3.1" fill="url(#gg)"/>
<circle cx="568.8" cy="774.8" r="3.1" fill="url(#gg)"/>
<circle cx="567.7" cy="776.1" r="3.1" fill="url(#gg)"/>
<circle cx="566.7" cy="777.5" r="3.1" fill="url(#gg)"/>
<circle cx="565.8" cy="778.9" r="3.1" fill="url(#gg)"/>
<circle cx="564.9" cy="780.4" r="3.1" fill="url(#gg)"/>
<circle cx="564.0" cy="781.8" r="3.1" fill="url(#gg)"/>
<circle cx="563.1" cy="783.3" r="3.1" fill="url(#gg)"/>
<circle cx="562.2" cy="784.7" r="3.1" fill="url(#gg)"/>
<circle cx="561.3" cy="786.1" r="3.1" fill="url(#gg)"/>
<circle cx="560.4" cy="787.6" r="3.1" fill="url(#gg)"/>
<circle cx="559.5" cy="789.0" r="3.1" fill="url(#gg)"/>
<circle cx="562.5" cy="789.0" r="3.3" fill="url(#gg)"/>
<circle cx="560.0" cy="789.0" r="3.3" fill="url(#gg)"/>
<circle cx="557.5" cy="787.5" r="3.3" fill="url(#gg)"/>
<circle cx="557.4" cy="782.5" r="3.3" fill="url(#gg)"/>
<circle cx="557.6" cy="777.0" r="3.3" fill="url(#gg)"/>
<circle cx="558.5" cy="786.5" r="3.3" fill="url(#gg)"/>
<circle cx="559.3" cy="781.2" r="3.3" fill="url(#gg)"/>
<circle cx="560.2" cy="775.8" r="3.3" fill="url(#gg)"/>
<circle cx="561.0" cy="770.3" r="3.3" fill="url(#gg)"/>
<circle cx="561.6" cy="764.8" r="3.3" fill="url(#gg)"/>
<circle cx="561.9" cy="759.2" r="3.3" fill="url(#gg)"/>
<circle cx="561.7" cy="753.5" r="3.3" fill="url(#gg)"/>
<circle cx="560.6" cy="746.6" r="3.3" fill="url(#gg)"/>
<circle cx="558.8" cy="738.4" r="3.3" fill="url(#gg)"/>
<circle cx="562.2" cy="782.7" r="0.75" fill="#fff" opacity="0.85"/>
<circle cx="564.0" cy="779.8" r="0.75" fill="#fff" opacity="0.85"/>
<circle cx="565.8" cy="776.9" r="0.75" fill="#fff" opacity="0.85"/>
<circle cx="567.9" cy="774.2" r="0.75" fill="#fff" opacity="0.85"/>
<circle cx="570.3" cy="771.8" r="0.75" fill="#fff" opacity="0.85"/>
<circle cx="572.6" cy="769.3" r="0.75" fill="#fff" opacity="0.85"/>
<circle cx="574.9" cy="766.7" r="0.75" fill="#fff" opacity="0.85"/>
<circle cx="577.3" cy="764.3" r="0.75" fill="#fff" opacity="0.85"/>
<circle cx="579.8" cy="762.0" r="0.75" fill="#fff" opacity="0.85"/>
<circle cx="582.3" cy="759.8" r="0.75" fill="#fff" opacity="0.85"/>
<circle cx="584.9" cy="757.6" r="0.75" fill="#fff" opacity="0.85"/>
<circle cx="587.5" cy="755.4" r="0.75" fill="#fff" opacity="0.85"/>
<circle cx="590.0" cy="753.1" r="0.75" fill="#fff" opacity="0.85"/>
<circle cx="592.5" cy="750.8" r="0.75" fill="#fff" opacity="0.85"/>
<circle cx="595.0" cy="748.5" r="0.75" fill="#fff" opacity="0.85"/>
<circle cx="597.3" cy="745.9" r="0.75" fill="#fff" opacity="0.85"/>
<circle cx="599.3" cy="743.2" r="0.75" fill="#fff" opacity="0.85"/>
<circle cx="601.1" cy="740.3" r="0.75" fill="#fff" opacity="0.85"/>
<circle cx="602.7" cy="737.3" r="0.75" fill="#fff" opacity="0.85"/>
<circle cx="603.9" cy="734.2" r="0.75" fill="#fff" opacity="0.85"/>
</g></svg>
<rect x="545" y="660.5" width="122.60000000000002" height="130.0" fill="none" stroke="#000" stroke-width="1.8"/>
<line x1="589.1" y1="790.5" x2="589.1" y2="794.5" stroke="#000" stroke-width="1.5"/>
<text x="589.1" y="811.4" font-family="Liberation Sans, sans-serif" font-size="15.8" text-anchor="middle">80</text>
<line x1="637.5" y1="790.5" x2="637.5" y2="794.5" stroke="#000" stroke-width="1.5"/>
<text x="637.5" y="811.4" font-family="Liberation Sans, sans-serif" font-size="15.8" text-anchor="middle">120</text>
<line x1="540.5" y1="686.4" x2="545" y2="686.4" stroke="#000" stroke-width="1.5"/>
<text x="536.6" y="691.0" font-family="Liberation Sans, sans-serif" font-size="16" text-anchor="end">100</text>
<line x1="540.5" y1="738.5" x2="545" y2="738.5" stroke="#000" stroke-width="1.5"/>
<text x="536.6" y="743.1" font-family="Liberation Sans, sans-serif" font-size="16" text-anchor="end">50</text>
<line x1="540.5" y1="790.5" x2="545" y2="790.5" stroke="#000" stroke-width="1.5"/>
<text x="536.6" y="795.1" font-family="Liberation Sans, sans-serif" font-size="16" text-anchor="end">0</text>
<text x="596.2" y="785.8" font-family="Liberation Serif, serif" font-size="15" letter-spacing="-0.45">ESR = 85 Ω</text>
<text transform="translate(501.8,721.5) rotate(-90)" font-family="Liberation Serif, serif" font-size="15.5" text-anchor="middle">-Z’’ (Ohm)</text>
<text x="605.9" y="828.3" font-family="Liberation Serif, serif" font-size="15.3" text-anchor="middle">Z’ (Ohm)</text>
</svg></body></html>
